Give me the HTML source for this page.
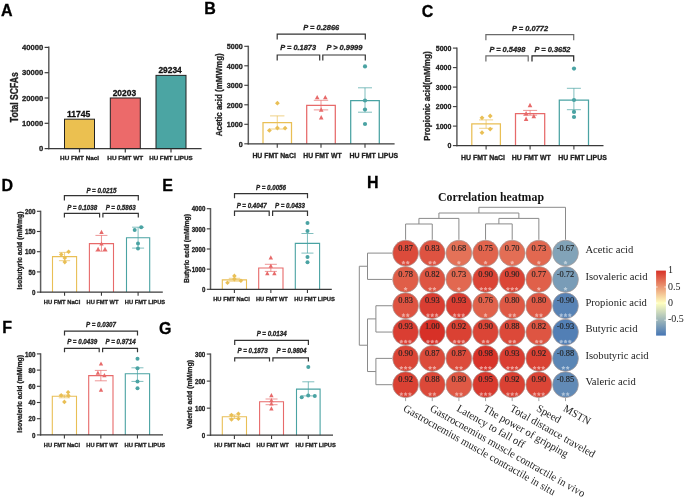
<!DOCTYPE html><html><head><meta charset="utf-8"><style>html,body{margin:0;padding:0;background:#fff;}svg{display:block;will-change:transform;}</style></head><body><svg width="685" height="497" viewBox="0 0 685 497">
<rect width="685" height="497" fill="#fff"/>
<text x="1.00" y="15.96" font-size="16.0" font-weight="bold" text-anchor="start" font-style="normal" fill="#000" font-family='"Liberation Sans", sans-serif' stroke="#000" stroke-width="0.3" >A</text>
<text x="204.30" y="13.96" font-size="16.0" font-weight="bold" text-anchor="start" font-style="normal" fill="#000" font-family='"Liberation Sans", sans-serif' stroke="#000" stroke-width="0.3" >B</text>
<text x="421.80" y="16.66" font-size="16.0" font-weight="bold" text-anchor="start" font-style="normal" fill="#000" font-family='"Liberation Sans", sans-serif' stroke="#000" stroke-width="0.3" >C</text>
<text x="1.40" y="191.26" font-size="16.0" font-weight="bold" text-anchor="start" font-style="normal" fill="#000" font-family='"Liberation Sans", sans-serif' stroke="#000" stroke-width="0.3" >D</text>
<text x="162.30" y="191.26" font-size="16.0" font-weight="bold" text-anchor="start" font-style="normal" fill="#000" font-family='"Liberation Sans", sans-serif' stroke="#000" stroke-width="0.3" >E</text>
<text x="2.20" y="332.56" font-size="16.0" font-weight="bold" text-anchor="start" font-style="normal" fill="#000" font-family='"Liberation Sans", sans-serif' stroke="#000" stroke-width="0.3" >F</text>
<text x="159.10" y="334.46" font-size="16.0" font-weight="bold" text-anchor="start" font-style="normal" fill="#000" font-family='"Liberation Sans", sans-serif' stroke="#000" stroke-width="0.3" >G</text>
<text x="367.00" y="188.06" font-size="16.0" font-weight="bold" text-anchor="start" font-style="normal" fill="#000" font-family='"Liberation Sans", sans-serif' stroke="#000" stroke-width="0.3" >H</text>
<line x1="48.80" y1="46.50" x2="48.80" y2="149.30" stroke="#5e5e5e" stroke-width="1.5" />
<line x1="48.10" y1="148.60" x2="201.60" y2="148.60" stroke="#3a3a3a" stroke-width="1.4" />
<line x1="44.60" y1="148.60" x2="48.80" y2="148.60" stroke="#3a3a3a" stroke-width="1.2" />
<text x="43.30" y="151.10" font-size="7.9" font-weight="bold" text-anchor="end" font-style="normal" fill="#222" font-family='"Liberation Sans", sans-serif' textLength="4.26" lengthAdjust="spacingAndGlyphs" stroke="#222" stroke-width="0.3" >0</text>
<line x1="44.60" y1="123.30" x2="48.80" y2="123.30" stroke="#3a3a3a" stroke-width="1.2" />
<text x="43.30" y="125.80" font-size="7.9" font-weight="bold" text-anchor="end" font-style="normal" fill="#222" font-family='"Liberation Sans", sans-serif' textLength="21.3" lengthAdjust="spacingAndGlyphs" stroke="#222" stroke-width="0.3" >10000</text>
<line x1="44.60" y1="98.00" x2="48.80" y2="98.00" stroke="#3a3a3a" stroke-width="1.2" />
<text x="43.30" y="100.50" font-size="7.9" font-weight="bold" text-anchor="end" font-style="normal" fill="#222" font-family='"Liberation Sans", sans-serif' textLength="21.3" lengthAdjust="spacingAndGlyphs" stroke="#222" stroke-width="0.3" >20000</text>
<line x1="44.60" y1="72.70" x2="48.80" y2="72.70" stroke="#3a3a3a" stroke-width="1.2" />
<text x="43.30" y="75.20" font-size="7.9" font-weight="bold" text-anchor="end" font-style="normal" fill="#222" font-family='"Liberation Sans", sans-serif' textLength="21.3" lengthAdjust="spacingAndGlyphs" stroke="#222" stroke-width="0.3" >30000</text>
<line x1="44.60" y1="47.40" x2="48.80" y2="47.40" stroke="#3a3a3a" stroke-width="1.2" />
<text x="43.30" y="49.90" font-size="7.9" font-weight="bold" text-anchor="end" font-style="normal" fill="#222" font-family='"Liberation Sans", sans-serif' textLength="21.3" lengthAdjust="spacingAndGlyphs" stroke="#222" stroke-width="0.3" >40000</text>
<text x="18.00" y="97.20" font-size="10.0" font-weight="bold" text-anchor="middle" font-style="normal" fill="#222" font-family='"Liberation Sans", sans-serif' textLength="50" lengthAdjust="spacingAndGlyphs" transform="rotate(-90 18.00 97.20)" stroke="#222" stroke-width="0.3" >Total SCFAs</text>
<rect x="64.50" y="119.18" width="30" height="29.42" fill="#EBC050" stroke="#222" stroke-width="1"/>
<text x="78.60" y="116.88" font-size="8.9" font-weight="bold" text-anchor="middle" font-style="normal" fill="#111" font-family='"Liberation Sans", sans-serif' textLength="23.4" lengthAdjust="spacingAndGlyphs" stroke="#111" stroke-width="0.3" >11745</text>
<line x1="79.50" y1="148.60" x2="79.50" y2="152.40" stroke="#3a3a3a" stroke-width="1.2" />
<text x="79.60" y="160.00" font-size="6.2" font-weight="bold" text-anchor="middle" font-style="normal" fill="#222" font-family='"Liberation Sans", sans-serif' textLength="39.0" lengthAdjust="spacingAndGlyphs" stroke="#222" stroke-width="0.3" >HU FMT Nacl</text>
<rect x="110.30" y="97.99" width="30" height="50.61" fill="#EC6A6A" stroke="#222" stroke-width="1"/>
<text x="124.40" y="95.69" font-size="8.9" font-weight="bold" text-anchor="middle" font-style="normal" fill="#111" font-family='"Liberation Sans", sans-serif' textLength="23.4" lengthAdjust="spacingAndGlyphs" stroke="#111" stroke-width="0.3" >20203</text>
<line x1="125.30" y1="148.60" x2="125.30" y2="152.40" stroke="#3a3a3a" stroke-width="1.2" />
<text x="125.20" y="160.00" font-size="6.2" font-weight="bold" text-anchor="middle" font-style="normal" fill="#222" font-family='"Liberation Sans", sans-serif' textLength="35.8" lengthAdjust="spacingAndGlyphs" stroke="#222" stroke-width="0.3" >HU FMT WT</text>
<rect x="156.00" y="75.37" width="30" height="73.23" fill="#4BA5A3" stroke="#222" stroke-width="1"/>
<text x="170.10" y="73.07" font-size="8.9" font-weight="bold" text-anchor="middle" font-style="normal" fill="#111" font-family='"Liberation Sans", sans-serif' textLength="23.4" lengthAdjust="spacingAndGlyphs" stroke="#111" stroke-width="0.3" >29234</text>
<line x1="171.00" y1="148.60" x2="171.00" y2="152.40" stroke="#3a3a3a" stroke-width="1.2" />
<text x="170.90" y="160.00" font-size="6.2" font-weight="bold" text-anchor="middle" font-style="normal" fill="#222" font-family='"Liberation Sans", sans-serif' textLength="43.4" lengthAdjust="spacingAndGlyphs" stroke="#222" stroke-width="0.3" >HU FMT LIPUS</text>
<text x="221.60" y="94.80" font-size="9.0" font-weight="bold" text-anchor="middle" font-style="normal" fill="#222" font-family='"Liberation Sans", sans-serif' textLength="83" lengthAdjust="spacingAndGlyphs" transform="rotate(-90 221.60 94.80)" stroke="#222" stroke-width="0.3" >Acetic acid  (mMWmg)</text>
<path d="M263.00 143.80V122.60H291.50V143.80" stroke="#E9BF55" stroke-width="1.25" fill="none" />
<line x1="277.25" y1="115.90" x2="277.25" y2="129.00" stroke="#E9BF55" stroke-width="1.0" stroke-opacity="0.7"/>
<line x1="270.05" y1="115.90" x2="284.45" y2="115.90" stroke="#E9BF55" stroke-width="1.0" stroke-opacity="0.7"/>
<line x1="270.05" y1="129.00" x2="284.45" y2="129.00" stroke="#E9BF55" stroke-width="1.0" stroke-opacity="0.7"/>
<path d="M277.40 100.78L279.81 103.20L277.40 105.62L274.98 103.20Z" fill="#E9BF55"/>
<path d="M269.40 127.98L271.81 130.40L269.40 132.81L266.98 130.40Z" fill="#E9BF55"/>
<path d="M277.40 125.58L279.81 128.00L277.40 130.41L274.98 128.00Z" fill="#E9BF55"/>
<path d="M285.10 125.78L287.52 128.20L285.10 130.61L282.69 128.20Z" fill="#E9BF55"/>
<line x1="277.25" y1="143.80" x2="277.25" y2="147.80" stroke="#3a3a3a" stroke-width="1.1" />
<path d="M306.70 143.80V105.40H335.30V143.80" stroke="#E76A6A" stroke-width="1.25" fill="none" />
<line x1="321.00" y1="100.30" x2="321.00" y2="109.90" stroke="#E76A6A" stroke-width="1.0" stroke-opacity="0.7"/>
<line x1="313.80" y1="100.30" x2="328.20" y2="100.30" stroke="#E76A6A" stroke-width="1.0" stroke-opacity="0.7"/>
<line x1="313.80" y1="109.90" x2="328.20" y2="109.90" stroke="#E76A6A" stroke-width="1.0" stroke-opacity="0.7"/>
<path d="M317.20 94.97L319.51 99.36L314.89 99.36Z" fill="#E76A6A"/>
<path d="M325.30 94.97L327.61 99.36L322.99 99.36Z" fill="#E76A6A"/>
<path d="M321.20 107.27L323.51 111.66L318.89 111.66Z" fill="#E76A6A"/>
<path d="M321.20 115.07L323.51 119.46L318.89 119.46Z" fill="#E76A6A"/>
<line x1="321.00" y1="143.80" x2="321.00" y2="147.80" stroke="#3a3a3a" stroke-width="1.1" />
<path d="M350.70 143.80V100.50H379.30V143.80" stroke="#4AA3A3" stroke-width="1.25" fill="none" />
<line x1="365.00" y1="87.80" x2="365.00" y2="112.20" stroke="#4AA3A3" stroke-width="1.0" stroke-opacity="0.7"/>
<line x1="358.00" y1="87.80" x2="372.00" y2="87.80" stroke="#4AA3A3" stroke-width="1.0" stroke-opacity="0.7"/>
<line x1="358.00" y1="112.20" x2="372.00" y2="112.20" stroke="#4AA3A3" stroke-width="1.0" stroke-opacity="0.7"/>
<circle cx="365.00" cy="66.40" r="2.1" fill="#4AA3A3" />
<circle cx="365.00" cy="100.50" r="2.1" fill="#4AA3A3" />
<circle cx="365.00" cy="109.50" r="2.1" fill="#4AA3A3" />
<circle cx="365.00" cy="124.00" r="2.1" fill="#4AA3A3" />
<line x1="365.00" y1="143.80" x2="365.00" y2="147.80" stroke="#3a3a3a" stroke-width="1.1" />
<line x1="248.30" y1="45.70" x2="248.30" y2="144.40" stroke="#5e5e5e" stroke-width="1.5" />
<line x1="247.70" y1="143.80" x2="394.60" y2="143.80" stroke="#3a3a3a" stroke-width="1.3" />
<line x1="244.30" y1="143.80" x2="248.30" y2="143.80" stroke="#3a3a3a" stroke-width="1.1" />
<text x="242.80" y="146.65" font-size="7.5" font-weight="bold" text-anchor="end" font-style="normal" fill="#222" font-family='"Liberation Sans", sans-serif' textLength="4.0" lengthAdjust="spacingAndGlyphs" stroke="#222" stroke-width="0.3" >0</text>
<line x1="244.30" y1="124.30" x2="248.30" y2="124.30" stroke="#3a3a3a" stroke-width="1.1" />
<text x="242.80" y="127.15" font-size="7.5" font-weight="bold" text-anchor="end" font-style="normal" fill="#222" font-family='"Liberation Sans", sans-serif' textLength="16.0" lengthAdjust="spacingAndGlyphs" stroke="#222" stroke-width="0.3" >1000</text>
<line x1="244.30" y1="104.80" x2="248.30" y2="104.80" stroke="#3a3a3a" stroke-width="1.1" />
<text x="242.80" y="107.65" font-size="7.5" font-weight="bold" text-anchor="end" font-style="normal" fill="#222" font-family='"Liberation Sans", sans-serif' textLength="16.0" lengthAdjust="spacingAndGlyphs" stroke="#222" stroke-width="0.3" >2000</text>
<line x1="244.30" y1="85.30" x2="248.30" y2="85.30" stroke="#3a3a3a" stroke-width="1.1" />
<text x="242.80" y="88.15" font-size="7.5" font-weight="bold" text-anchor="end" font-style="normal" fill="#222" font-family='"Liberation Sans", sans-serif' textLength="16.0" lengthAdjust="spacingAndGlyphs" stroke="#222" stroke-width="0.3" >3000</text>
<line x1="244.30" y1="65.80" x2="248.30" y2="65.80" stroke="#3a3a3a" stroke-width="1.1" />
<text x="242.80" y="68.65" font-size="7.5" font-weight="bold" text-anchor="end" font-style="normal" fill="#222" font-family='"Liberation Sans", sans-serif' textLength="16.0" lengthAdjust="spacingAndGlyphs" stroke="#222" stroke-width="0.3" >4000</text>
<line x1="244.30" y1="46.30" x2="248.30" y2="46.30" stroke="#3a3a3a" stroke-width="1.1" />
<text x="242.80" y="49.15" font-size="7.5" font-weight="bold" text-anchor="end" font-style="normal" fill="#222" font-family='"Liberation Sans", sans-serif' textLength="16.0" lengthAdjust="spacingAndGlyphs" stroke="#222" stroke-width="0.3" >5000</text>
<text x="274.10" y="157.88" font-size="6.9" font-weight="bold" text-anchor="middle" font-style="normal" fill="#222" font-family='"Liberation Sans", sans-serif' textLength="43.4" lengthAdjust="spacingAndGlyphs" stroke="#222" stroke-width="0.3" >HU FMT NaCl</text>
<text x="322.40" y="157.88" font-size="6.9" font-weight="bold" text-anchor="middle" font-style="normal" fill="#222" font-family='"Liberation Sans", sans-serif' textLength="38.3" lengthAdjust="spacingAndGlyphs" stroke="#222" stroke-width="0.3" >HU FMT WT</text>
<text x="373.80" y="157.88" font-size="6.9" font-weight="bold" text-anchor="middle" font-style="normal" fill="#222" font-family='"Liberation Sans", sans-serif' textLength="48.5" lengthAdjust="spacingAndGlyphs" stroke="#222" stroke-width="0.3" >HU FMT LIPUS</text>
<path d="M277.20 39.60V34.10H365.30V39.60" stroke="#333" stroke-width="1.2" fill="none" />
<path d="M277.20 60.50V55.00H319.70V60.50" stroke="#333" stroke-width="1.2" fill="none" />
<path d="M322.80 60.50V55.00H365.30V60.50" stroke="#333" stroke-width="1.2" fill="none" />
<text x="321.20" y="29.92" font-size="8.0" font-weight="bold" text-anchor="middle" font-style="italic" fill="#222" font-family='"Liberation Sans", sans-serif' textLength="36" lengthAdjust="spacingAndGlyphs" stroke="#222" stroke-width="0.3" >P = 0.2866</text>
<text x="298.20" y="50.22" font-size="8.0" font-weight="bold" text-anchor="middle" font-style="italic" fill="#222" font-family='"Liberation Sans", sans-serif' textLength="35.7" lengthAdjust="spacingAndGlyphs" stroke="#222" stroke-width="0.3" >P = 0.1873</text>
<text x="344.40" y="50.22" font-size="8.0" font-weight="bold" text-anchor="middle" font-style="italic" fill="#222" font-family='"Liberation Sans", sans-serif' textLength="36" lengthAdjust="spacingAndGlyphs" stroke="#222" stroke-width="0.3" >P &gt; 0.9999</text>
<text x="430.20" y="96.00" font-size="9.0" font-weight="bold" text-anchor="middle" font-style="normal" fill="#222" font-family='"Liberation Sans", sans-serif' textLength="89.4" lengthAdjust="spacingAndGlyphs" transform="rotate(-90 430.20 96.00)" stroke="#222" stroke-width="0.3" >Propionic acid(mM/mg)</text>
<path d="M471.80 145.60V123.80H500.40V145.60" stroke="#E9BF55" stroke-width="1.25" fill="none" />
<line x1="486.10" y1="119.90" x2="486.10" y2="128.30" stroke="#E9BF55" stroke-width="1.0" stroke-opacity="0.7"/>
<line x1="479.10" y1="119.90" x2="493.10" y2="119.90" stroke="#E9BF55" stroke-width="1.0" stroke-opacity="0.7"/>
<line x1="479.10" y1="128.30" x2="493.10" y2="128.30" stroke="#E9BF55" stroke-width="1.0" stroke-opacity="0.7"/>
<path d="M482.00 115.38L484.42 117.80L482.00 120.22L479.58 117.80Z" fill="#E9BF55"/>
<path d="M490.20 113.58L492.62 116.00L490.20 118.42L487.78 116.00Z" fill="#E9BF55"/>
<path d="M482.00 130.28L484.42 132.70L482.00 135.11L479.58 132.70Z" fill="#E9BF55"/>
<path d="M490.20 126.68L492.62 129.10L490.20 131.51L487.78 129.10Z" fill="#E9BF55"/>
<line x1="486.10" y1="145.60" x2="486.10" y2="149.60" stroke="#3a3a3a" stroke-width="1.1" />
<path d="M515.50 145.60V113.70H544.70V145.60" stroke="#E76A6A" stroke-width="1.25" fill="none" />
<line x1="530.10" y1="110.40" x2="530.10" y2="115.20" stroke="#E76A6A" stroke-width="1.0" stroke-opacity="0.7"/>
<line x1="523.10" y1="110.40" x2="537.10" y2="110.40" stroke="#E76A6A" stroke-width="1.0" stroke-opacity="0.7"/>
<line x1="523.10" y1="115.20" x2="537.10" y2="115.20" stroke="#E76A6A" stroke-width="1.0" stroke-opacity="0.7"/>
<path d="M530.00 102.87L532.31 107.26L527.69 107.26Z" fill="#E76A6A"/>
<path d="M526.10 111.07L528.41 115.46L523.79 115.46Z" fill="#E76A6A"/>
<path d="M533.80 113.77L536.11 118.16L531.49 118.16Z" fill="#E76A6A"/>
<path d="M526.10 116.57L528.41 120.96L523.79 120.96Z" fill="#E76A6A"/>
<line x1="530.10" y1="145.60" x2="530.10" y2="149.60" stroke="#3a3a3a" stroke-width="1.1" />
<path d="M559.30 145.60V100.00H588.50V145.60" stroke="#4AA3A3" stroke-width="1.25" fill="none" />
<line x1="573.90" y1="88.30" x2="573.90" y2="109.70" stroke="#4AA3A3" stroke-width="1.0" stroke-opacity="0.7"/>
<line x1="566.90" y1="88.30" x2="580.90" y2="88.30" stroke="#4AA3A3" stroke-width="1.0" stroke-opacity="0.7"/>
<line x1="566.90" y1="109.70" x2="580.90" y2="109.70" stroke="#4AA3A3" stroke-width="1.0" stroke-opacity="0.7"/>
<circle cx="574.00" cy="68.60" r="2.1" fill="#4AA3A3" />
<circle cx="574.00" cy="100.00" r="2.1" fill="#4AA3A3" />
<circle cx="574.00" cy="111.90" r="2.1" fill="#4AA3A3" />
<circle cx="574.00" cy="117.00" r="2.1" fill="#4AA3A3" />
<line x1="573.90" y1="145.60" x2="573.90" y2="149.60" stroke="#3a3a3a" stroke-width="1.1" />
<line x1="456.90" y1="47.50" x2="456.90" y2="146.20" stroke="#5e5e5e" stroke-width="1.5" />
<line x1="456.30" y1="145.60" x2="603.50" y2="145.60" stroke="#3a3a3a" stroke-width="1.3" />
<line x1="452.90" y1="145.60" x2="456.90" y2="145.60" stroke="#3a3a3a" stroke-width="1.1" />
<text x="451.40" y="148.45" font-size="7.5" font-weight="bold" text-anchor="end" font-style="normal" fill="#222" font-family='"Liberation Sans", sans-serif' textLength="3.9" lengthAdjust="spacingAndGlyphs" stroke="#222" stroke-width="0.3" >0</text>
<line x1="452.90" y1="126.10" x2="456.90" y2="126.10" stroke="#3a3a3a" stroke-width="1.1" />
<text x="451.40" y="128.95" font-size="7.5" font-weight="bold" text-anchor="end" font-style="normal" fill="#222" font-family='"Liberation Sans", sans-serif' textLength="15.6" lengthAdjust="spacingAndGlyphs" stroke="#222" stroke-width="0.3" >1000</text>
<line x1="452.90" y1="106.60" x2="456.90" y2="106.60" stroke="#3a3a3a" stroke-width="1.1" />
<text x="451.40" y="109.45" font-size="7.5" font-weight="bold" text-anchor="end" font-style="normal" fill="#222" font-family='"Liberation Sans", sans-serif' textLength="15.6" lengthAdjust="spacingAndGlyphs" stroke="#222" stroke-width="0.3" >2000</text>
<line x1="452.90" y1="87.10" x2="456.90" y2="87.10" stroke="#3a3a3a" stroke-width="1.1" />
<text x="451.40" y="89.95" font-size="7.5" font-weight="bold" text-anchor="end" font-style="normal" fill="#222" font-family='"Liberation Sans", sans-serif' textLength="15.6" lengthAdjust="spacingAndGlyphs" stroke="#222" stroke-width="0.3" >3000</text>
<line x1="452.90" y1="67.60" x2="456.90" y2="67.60" stroke="#3a3a3a" stroke-width="1.1" />
<text x="451.40" y="70.45" font-size="7.5" font-weight="bold" text-anchor="end" font-style="normal" fill="#222" font-family='"Liberation Sans", sans-serif' textLength="15.6" lengthAdjust="spacingAndGlyphs" stroke="#222" stroke-width="0.3" >4000</text>
<line x1="452.90" y1="48.10" x2="456.90" y2="48.10" stroke="#3a3a3a" stroke-width="1.1" />
<text x="451.40" y="50.95" font-size="7.5" font-weight="bold" text-anchor="end" font-style="normal" fill="#222" font-family='"Liberation Sans", sans-serif' textLength="15.6" lengthAdjust="spacingAndGlyphs" stroke="#222" stroke-width="0.3" >5000</text>
<text x="483.00" y="160.08" font-size="6.9" font-weight="bold" text-anchor="middle" font-style="normal" fill="#222" font-family='"Liberation Sans", sans-serif' textLength="43.8" lengthAdjust="spacingAndGlyphs" stroke="#222" stroke-width="0.3" >HU FMT NaCl</text>
<text x="531.30" y="160.08" font-size="6.9" font-weight="bold" text-anchor="middle" font-style="normal" fill="#222" font-family='"Liberation Sans", sans-serif' textLength="39.2" lengthAdjust="spacingAndGlyphs" stroke="#222" stroke-width="0.3" >HU FMT WT</text>
<text x="582.50" y="160.08" font-size="6.9" font-weight="bold" text-anchor="middle" font-style="normal" fill="#222" font-family='"Liberation Sans", sans-serif' textLength="48.6" lengthAdjust="spacingAndGlyphs" stroke="#222" stroke-width="0.3" >HU FMT LIPUS</text>
<path d="M485.90 40.20V34.70H573.70V40.20" stroke="#6a6a6a" stroke-width="1.2" fill="none" />
<path d="M485.90 61.40V55.90H528.20V61.40" stroke="#6a6a6a" stroke-width="1.2" fill="none" />
<path d="M532.00 61.40V55.90H573.70V61.40" stroke="#222" stroke-width="1.2" fill="none" />
<text x="530.10" y="30.72" font-size="8.0" font-weight="bold" text-anchor="middle" font-style="italic" fill="#222" font-family='"Liberation Sans", sans-serif' textLength="36" lengthAdjust="spacingAndGlyphs" stroke="#222" stroke-width="0.3" >P = 0.0772</text>
<text x="507.40" y="51.52" font-size="8.0" font-weight="bold" text-anchor="middle" font-style="italic" fill="#222" font-family='"Liberation Sans", sans-serif' textLength="36" lengthAdjust="spacingAndGlyphs" stroke="#222" stroke-width="0.3" >P = 0.5498</text>
<text x="552.50" y="51.52" font-size="8.0" font-weight="bold" text-anchor="middle" font-style="italic" fill="#222" font-family='"Liberation Sans", sans-serif' textLength="36" lengthAdjust="spacingAndGlyphs" stroke="#222" stroke-width="0.3" >P = 0.3652</text>
<text x="22.00" y="250.60" font-size="7.5" font-weight="bold" text-anchor="middle" font-style="normal" fill="#222" font-family='"Liberation Sans", sans-serif' textLength="78" lengthAdjust="spacingAndGlyphs" transform="rotate(-90 22.00 250.60)" stroke="#222" stroke-width="0.3" >Isobutyric acid (mM/mg)</text>
<path d="M52.50 292.10V256.60H76.60V292.10" stroke="#E9BF55" stroke-width="1.1" fill="none" />
<line x1="64.55" y1="252.40" x2="64.55" y2="260.70" stroke="#E9BF55" stroke-width="1.0" stroke-opacity="0.7"/>
<line x1="58.95" y1="252.40" x2="70.15" y2="252.40" stroke="#E9BF55" stroke-width="1.0" stroke-opacity="0.7"/>
<line x1="58.95" y1="260.70" x2="70.15" y2="260.70" stroke="#E9BF55" stroke-width="1.0" stroke-opacity="0.7"/>
<path d="M61.30 252.20L63.60 254.50L61.30 256.80L59.00 254.50Z" fill="#E9BF55"/>
<path d="M68.60 249.40L70.90 251.70L68.60 254.00L66.30 251.70Z" fill="#E9BF55"/>
<path d="M64.80 255.60L67.10 257.90L64.80 260.20L62.50 257.90Z" fill="#E9BF55"/>
<path d="M64.80 259.80L67.10 262.10L64.80 264.40L62.50 262.10Z" fill="#E9BF55"/>
<line x1="64.55" y1="292.10" x2="64.55" y2="295.80" stroke="#3a3a3a" stroke-width="1.1" />
<path d="M89.40 292.10V243.60H113.50V292.10" stroke="#E76A6A" stroke-width="1.1" fill="none" />
<line x1="101.45" y1="235.40" x2="101.45" y2="251.20" stroke="#E76A6A" stroke-width="1.0" stroke-opacity="0.7"/>
<line x1="95.45" y1="235.40" x2="107.45" y2="235.40" stroke="#E76A6A" stroke-width="1.0" stroke-opacity="0.7"/>
<line x1="95.45" y1="251.20" x2="107.45" y2="251.20" stroke="#E76A6A" stroke-width="1.0" stroke-opacity="0.7"/>
<path d="M101.50 229.79L103.70 233.97L99.30 233.97Z" fill="#E76A6A"/>
<path d="M101.50 241.39L103.70 245.57L99.30 245.57Z" fill="#E76A6A"/>
<path d="M98.10 246.79L100.30 250.97L95.90 250.97Z" fill="#E76A6A"/>
<path d="M105.00 246.79L107.20 250.97L102.80 250.97Z" fill="#E76A6A"/>
<line x1="101.45" y1="292.10" x2="101.45" y2="295.80" stroke="#3a3a3a" stroke-width="1.1" />
<path d="M126.50 292.10V237.80H149.70V292.10" stroke="#4AA3A3" stroke-width="1.1" fill="none" />
<line x1="138.10" y1="227.20" x2="138.10" y2="248.10" stroke="#4AA3A3" stroke-width="1.0" stroke-opacity="0.7"/>
<line x1="132.10" y1="227.20" x2="144.10" y2="227.20" stroke="#4AA3A3" stroke-width="1.0" stroke-opacity="0.7"/>
<line x1="132.10" y1="248.10" x2="144.10" y2="248.10" stroke="#4AA3A3" stroke-width="1.0" stroke-opacity="0.7"/>
<circle cx="134.70" cy="230.00" r="2.0" fill="#4AA3A3" />
<circle cx="141.20" cy="227.20" r="2.0" fill="#4AA3A3" />
<circle cx="138.00" cy="243.60" r="2.0" fill="#4AA3A3" />
<circle cx="138.00" cy="248.60" r="2.0" fill="#4AA3A3" />
<line x1="138.10" y1="292.10" x2="138.10" y2="295.80" stroke="#3a3a3a" stroke-width="1.1" />
<line x1="40.60" y1="210.70" x2="40.60" y2="292.70" stroke="#5e5e5e" stroke-width="1.5" />
<line x1="40.00" y1="292.10" x2="162.80" y2="292.10" stroke="#3a3a3a" stroke-width="1.3" />
<line x1="36.90" y1="292.10" x2="40.60" y2="292.10" stroke="#3a3a3a" stroke-width="1.1" />
<text x="35.40" y="294.77" font-size="6.9" font-weight="bold" text-anchor="end" font-style="normal" fill="#222" font-family='"Liberation Sans", sans-serif' textLength="3.45" lengthAdjust="spacingAndGlyphs" stroke="#222" stroke-width="0.3" >0</text>
<line x1="36.90" y1="271.90" x2="40.60" y2="271.90" stroke="#3a3a3a" stroke-width="1.1" />
<text x="35.40" y="274.57" font-size="6.9" font-weight="bold" text-anchor="end" font-style="normal" fill="#222" font-family='"Liberation Sans", sans-serif' textLength="6.9" lengthAdjust="spacingAndGlyphs" stroke="#222" stroke-width="0.3" >50</text>
<line x1="36.90" y1="251.70" x2="40.60" y2="251.70" stroke="#3a3a3a" stroke-width="1.1" />
<text x="35.40" y="254.37" font-size="6.9" font-weight="bold" text-anchor="end" font-style="normal" fill="#222" font-family='"Liberation Sans", sans-serif' textLength="10.35" lengthAdjust="spacingAndGlyphs" stroke="#222" stroke-width="0.3" >100</text>
<line x1="36.90" y1="231.50" x2="40.60" y2="231.50" stroke="#3a3a3a" stroke-width="1.1" />
<text x="35.40" y="234.17" font-size="6.9" font-weight="bold" text-anchor="end" font-style="normal" fill="#222" font-family='"Liberation Sans", sans-serif' textLength="10.35" lengthAdjust="spacingAndGlyphs" stroke="#222" stroke-width="0.3" >150</text>
<line x1="36.90" y1="211.30" x2="40.60" y2="211.30" stroke="#3a3a3a" stroke-width="1.1" />
<text x="35.40" y="213.97" font-size="6.9" font-weight="bold" text-anchor="end" font-style="normal" fill="#222" font-family='"Liberation Sans", sans-serif' textLength="10.35" lengthAdjust="spacingAndGlyphs" stroke="#222" stroke-width="0.3" >200</text>
<text x="62.10" y="303.83" font-size="6.2" font-weight="bold" text-anchor="middle" font-style="normal" fill="#222" font-family='"Liberation Sans", sans-serif' textLength="36.6" lengthAdjust="spacingAndGlyphs" stroke="#222" stroke-width="0.3" >HU FMT NaCl</text>
<text x="102.50" y="303.83" font-size="6.2" font-weight="bold" text-anchor="middle" font-style="normal" fill="#222" font-family='"Liberation Sans", sans-serif' textLength="31.9" lengthAdjust="spacingAndGlyphs" stroke="#222" stroke-width="0.3" >HU FMT WT</text>
<text x="145.00" y="303.83" font-size="6.2" font-weight="bold" text-anchor="middle" font-style="normal" fill="#222" font-family='"Liberation Sans", sans-serif' textLength="40.3" lengthAdjust="spacingAndGlyphs" stroke="#222" stroke-width="0.3" >HU FMT LIPUS</text>
<path d="M64.40 200.50V195.60H138.30V200.50" stroke="#333" stroke-width="1.2" fill="none" />
<path d="M64.40 217.60V213.30H99.60V217.60" stroke="#333" stroke-width="1.2" fill="none" />
<path d="M102.90 217.60V213.30H138.30V217.60" stroke="#333" stroke-width="1.2" fill="none" />
<text x="101.40" y="192.87" font-size="6.8" font-weight="bold" text-anchor="middle" font-style="italic" fill="#222" font-family='"Liberation Sans", sans-serif' textLength="30" lengthAdjust="spacingAndGlyphs" stroke="#222" stroke-width="0.3" >P = 0.0215</text>
<text x="82.20" y="209.67" font-size="6.8" font-weight="bold" text-anchor="middle" font-style="italic" fill="#222" font-family='"Liberation Sans", sans-serif' textLength="30" lengthAdjust="spacingAndGlyphs" stroke="#222" stroke-width="0.3" >P = 0.1038</text>
<text x="120.70" y="209.67" font-size="6.8" font-weight="bold" text-anchor="middle" font-style="italic" fill="#222" font-family='"Liberation Sans", sans-serif' textLength="30" lengthAdjust="spacingAndGlyphs" stroke="#222" stroke-width="0.3" >P = 0.5863</text>
<text x="188.60" y="248.50" font-size="7.5" font-weight="bold" text-anchor="middle" font-style="normal" fill="#222" font-family='"Liberation Sans", sans-serif' textLength="69" lengthAdjust="spacingAndGlyphs" transform="rotate(-90 188.60 248.50)" stroke="#222" stroke-width="0.3" >Butyric acid (mM/mg)</text>
<path d="M222.30 289.30V279.90H246.50V289.30" stroke="#E9BF55" stroke-width="1.1" fill="none" />
<line x1="234.40" y1="278.30" x2="234.40" y2="281.20" stroke="#E9BF55" stroke-width="1.0" stroke-opacity="0.7"/>
<line x1="228.80" y1="278.30" x2="240.00" y2="278.30" stroke="#E9BF55" stroke-width="1.0" stroke-opacity="0.7"/>
<line x1="228.80" y1="281.20" x2="240.00" y2="281.20" stroke="#E9BF55" stroke-width="1.0" stroke-opacity="0.7"/>
<path d="M234.40 273.60L236.70 275.90L234.40 278.20L232.10 275.90Z" fill="#E9BF55"/>
<path d="M227.50 280.50L229.80 282.80L227.50 285.10L225.20 282.80Z" fill="#E9BF55"/>
<path d="M234.40 276.80L236.70 279.10L234.40 281.40L232.10 279.10Z" fill="#E9BF55"/>
<path d="M240.90 278.40L243.20 280.70L240.90 283.00L238.60 280.70Z" fill="#E9BF55"/>
<line x1="234.40" y1="289.30" x2="234.40" y2="293.00" stroke="#3a3a3a" stroke-width="1.1" />
<path d="M258.70 289.30V268.00H283.00V289.30" stroke="#E76A6A" stroke-width="1.1" fill="none" />
<line x1="270.85" y1="264.30" x2="270.85" y2="271.40" stroke="#E76A6A" stroke-width="1.0" stroke-opacity="0.7"/>
<line x1="264.85" y1="264.30" x2="276.85" y2="264.30" stroke="#E76A6A" stroke-width="1.0" stroke-opacity="0.7"/>
<line x1="264.85" y1="271.40" x2="276.85" y2="271.40" stroke="#E76A6A" stroke-width="1.0" stroke-opacity="0.7"/>
<path d="M270.80 255.29L273.00 259.47L268.60 259.47Z" fill="#E76A6A"/>
<path d="M270.80 263.69L273.00 267.87L268.60 267.87Z" fill="#E76A6A"/>
<path d="M267.30 270.99L269.50 275.17L265.10 275.17Z" fill="#E76A6A"/>
<path d="M274.40 270.99L276.60 275.17L272.20 275.17Z" fill="#E76A6A"/>
<line x1="270.85" y1="289.30" x2="270.85" y2="293.00" stroke="#3a3a3a" stroke-width="1.1" />
<path d="M295.30 289.30V243.40H319.60V289.30" stroke="#4AA3A3" stroke-width="1.1" fill="none" />
<line x1="307.45" y1="233.50" x2="307.45" y2="253.10" stroke="#4AA3A3" stroke-width="1.0" stroke-opacity="0.7"/>
<line x1="301.45" y1="233.50" x2="313.45" y2="233.50" stroke="#4AA3A3" stroke-width="1.0" stroke-opacity="0.7"/>
<line x1="301.45" y1="253.10" x2="313.45" y2="253.10" stroke="#4AA3A3" stroke-width="1.0" stroke-opacity="0.7"/>
<circle cx="307.50" cy="223.10" r="2.0" fill="#4AA3A3" />
<circle cx="307.50" cy="230.90" r="2.0" fill="#4AA3A3" />
<circle cx="307.50" cy="257.00" r="2.0" fill="#4AA3A3" />
<circle cx="307.50" cy="262.20" r="2.0" fill="#4AA3A3" />
<line x1="307.45" y1="289.30" x2="307.45" y2="293.00" stroke="#3a3a3a" stroke-width="1.1" />
<line x1="210.50" y1="208.10" x2="210.50" y2="289.90" stroke="#5e5e5e" stroke-width="1.5" />
<line x1="209.90" y1="289.30" x2="331.80" y2="289.30" stroke="#3a3a3a" stroke-width="1.3" />
<line x1="206.80" y1="289.30" x2="210.50" y2="289.30" stroke="#3a3a3a" stroke-width="1.1" />
<text x="205.30" y="291.97" font-size="6.9" font-weight="bold" text-anchor="end" font-style="normal" fill="#222" font-family='"Liberation Sans", sans-serif' textLength="3.4" lengthAdjust="spacingAndGlyphs" stroke="#222" stroke-width="0.3" >0</text>
<line x1="206.80" y1="269.15" x2="210.50" y2="269.15" stroke="#3a3a3a" stroke-width="1.1" />
<text x="205.30" y="271.82" font-size="6.9" font-weight="bold" text-anchor="end" font-style="normal" fill="#222" font-family='"Liberation Sans", sans-serif' textLength="13.6" lengthAdjust="spacingAndGlyphs" stroke="#222" stroke-width="0.3" >1000</text>
<line x1="206.80" y1="249.00" x2="210.50" y2="249.00" stroke="#3a3a3a" stroke-width="1.1" />
<text x="205.30" y="251.67" font-size="6.9" font-weight="bold" text-anchor="end" font-style="normal" fill="#222" font-family='"Liberation Sans", sans-serif' textLength="13.6" lengthAdjust="spacingAndGlyphs" stroke="#222" stroke-width="0.3" >2000</text>
<line x1="206.80" y1="228.85" x2="210.50" y2="228.85" stroke="#3a3a3a" stroke-width="1.1" />
<text x="205.30" y="231.52" font-size="6.9" font-weight="bold" text-anchor="end" font-style="normal" fill="#222" font-family='"Liberation Sans", sans-serif' textLength="13.6" lengthAdjust="spacingAndGlyphs" stroke="#222" stroke-width="0.3" >3000</text>
<line x1="206.80" y1="208.70" x2="210.50" y2="208.70" stroke="#3a3a3a" stroke-width="1.1" />
<text x="205.30" y="211.37" font-size="6.9" font-weight="bold" text-anchor="end" font-style="normal" fill="#222" font-family='"Liberation Sans", sans-serif' textLength="13.6" lengthAdjust="spacingAndGlyphs" stroke="#222" stroke-width="0.3" >4000</text>
<text x="231.50" y="300.83" font-size="6.2" font-weight="bold" text-anchor="middle" font-style="normal" fill="#222" font-family='"Liberation Sans", sans-serif' textLength="36.6" lengthAdjust="spacingAndGlyphs" stroke="#222" stroke-width="0.3" >HU FMT NaCl</text>
<text x="271.90" y="300.83" font-size="6.2" font-weight="bold" text-anchor="middle" font-style="normal" fill="#222" font-family='"Liberation Sans", sans-serif' textLength="31.9" lengthAdjust="spacingAndGlyphs" stroke="#222" stroke-width="0.3" >HU FMT WT</text>
<text x="314.60" y="300.83" font-size="6.2" font-weight="bold" text-anchor="middle" font-style="normal" fill="#222" font-family='"Liberation Sans", sans-serif' textLength="40.6" lengthAdjust="spacingAndGlyphs" stroke="#222" stroke-width="0.3" >HU FMT LIPUS</text>
<path d="M234.50 198.20V193.70H307.50V198.20" stroke="#333" stroke-width="1.2" fill="none" />
<path d="M234.50 215.90V211.20H269.20V215.90" stroke="#333" stroke-width="1.2" fill="none" />
<path d="M272.60 215.90V211.20H307.50V215.90" stroke="#333" stroke-width="1.2" fill="none" />
<text x="271.00" y="190.17" font-size="6.8" font-weight="bold" text-anchor="middle" font-style="italic" fill="#222" font-family='"Liberation Sans", sans-serif' textLength="30" lengthAdjust="spacingAndGlyphs" stroke="#222" stroke-width="0.3" >P = 0.0056</text>
<text x="251.70" y="207.57" font-size="6.8" font-weight="bold" text-anchor="middle" font-style="italic" fill="#222" font-family='"Liberation Sans", sans-serif' textLength="30" lengthAdjust="spacingAndGlyphs" stroke="#222" stroke-width="0.3" >P = 0.4047</text>
<text x="290.00" y="207.57" font-size="6.8" font-weight="bold" text-anchor="middle" font-style="italic" fill="#222" font-family='"Liberation Sans", sans-serif' textLength="30" lengthAdjust="spacingAndGlyphs" stroke="#222" stroke-width="0.3" >P = 0.0433</text>
<text x="22.00" y="393.90" font-size="7.5" font-weight="bold" text-anchor="middle" font-style="normal" fill="#222" font-family='"Liberation Sans", sans-serif' textLength="77.7" lengthAdjust="spacingAndGlyphs" transform="rotate(-90 22.00 393.90)" stroke="#222" stroke-width="0.3" >Isovaleric acid (mM/mg)</text>
<path d="M52.30 434.90V396.20H76.50V434.90" stroke="#E9BF55" stroke-width="1.1" fill="none" />
<line x1="64.40" y1="395.00" x2="64.40" y2="397.80" stroke="#E9BF55" stroke-width="1.0" stroke-opacity="0.7"/>
<line x1="58.80" y1="395.00" x2="70.00" y2="395.00" stroke="#E9BF55" stroke-width="1.0" stroke-opacity="0.7"/>
<line x1="58.80" y1="397.80" x2="70.00" y2="397.80" stroke="#E9BF55" stroke-width="1.0" stroke-opacity="0.7"/>
<path d="M61.20 393.10L63.50 395.40L61.20 397.70L58.90 395.40Z" fill="#E9BF55"/>
<path d="M68.10 389.90L70.40 392.20L68.10 394.50L65.80 392.20Z" fill="#E9BF55"/>
<path d="M68.40 393.50L70.70 395.80L68.40 398.10L66.10 395.80Z" fill="#E9BF55"/>
<path d="M64.40 399.60L66.70 401.90L64.40 404.20L62.10 401.90Z" fill="#E9BF55"/>
<line x1="64.40" y1="434.90" x2="64.40" y2="438.60" stroke="#3a3a3a" stroke-width="1.1" />
<path d="M88.70 434.90V375.60H113.00V434.90" stroke="#E76A6A" stroke-width="1.1" fill="none" />
<line x1="100.85" y1="370.40" x2="100.85" y2="380.80" stroke="#E76A6A" stroke-width="1.0" stroke-opacity="0.7"/>
<line x1="94.85" y1="370.40" x2="106.85" y2="370.40" stroke="#E76A6A" stroke-width="1.0" stroke-opacity="0.7"/>
<line x1="94.85" y1="380.80" x2="106.85" y2="380.80" stroke="#E76A6A" stroke-width="1.0" stroke-opacity="0.7"/>
<path d="M101.00 361.39L103.20 365.57L98.80 365.57Z" fill="#E76A6A"/>
<path d="M97.90 370.49L100.10 374.67L95.70 374.67Z" fill="#E76A6A"/>
<path d="M104.40 373.09L106.60 377.27L102.20 377.27Z" fill="#E76A6A"/>
<path d="M101.00 387.49L103.20 391.67L98.80 391.67Z" fill="#E76A6A"/>
<line x1="100.85" y1="434.90" x2="100.85" y2="438.60" stroke="#3a3a3a" stroke-width="1.1" />
<path d="M125.30 434.90V373.80H149.60V434.90" stroke="#4AA3A3" stroke-width="1.1" fill="none" />
<line x1="137.45" y1="367.80" x2="137.45" y2="381.40" stroke="#4AA3A3" stroke-width="1.0" stroke-opacity="0.7"/>
<line x1="131.45" y1="367.80" x2="143.45" y2="367.80" stroke="#4AA3A3" stroke-width="1.0" stroke-opacity="0.7"/>
<line x1="131.45" y1="381.40" x2="143.45" y2="381.40" stroke="#4AA3A3" stroke-width="1.0" stroke-opacity="0.7"/>
<circle cx="137.50" cy="358.70" r="2.0" fill="#4AA3A3" />
<circle cx="137.50" cy="368.30" r="2.0" fill="#4AA3A3" />
<circle cx="137.50" cy="381.40" r="2.0" fill="#4AA3A3" />
<circle cx="137.50" cy="388.20" r="2.0" fill="#4AA3A3" />
<line x1="137.45" y1="434.90" x2="137.45" y2="438.60" stroke="#3a3a3a" stroke-width="1.1" />
<line x1="40.60" y1="353.30" x2="40.60" y2="435.50" stroke="#5e5e5e" stroke-width="1.5" />
<line x1="40.00" y1="434.90" x2="163.00" y2="434.90" stroke="#3a3a3a" stroke-width="1.3" />
<line x1="36.90" y1="434.90" x2="40.60" y2="434.90" stroke="#3a3a3a" stroke-width="1.1" />
<text x="35.40" y="437.57" font-size="6.9" font-weight="bold" text-anchor="end" font-style="normal" fill="#222" font-family='"Liberation Sans", sans-serif' textLength="3.45" lengthAdjust="spacingAndGlyphs" stroke="#222" stroke-width="0.3" >0</text>
<line x1="36.90" y1="418.70" x2="40.60" y2="418.70" stroke="#3a3a3a" stroke-width="1.1" />
<text x="35.40" y="421.37" font-size="6.9" font-weight="bold" text-anchor="end" font-style="normal" fill="#222" font-family='"Liberation Sans", sans-serif' textLength="6.9" lengthAdjust="spacingAndGlyphs" stroke="#222" stroke-width="0.3" >20</text>
<line x1="36.90" y1="402.50" x2="40.60" y2="402.50" stroke="#3a3a3a" stroke-width="1.1" />
<text x="35.40" y="405.17" font-size="6.9" font-weight="bold" text-anchor="end" font-style="normal" fill="#222" font-family='"Liberation Sans", sans-serif' textLength="6.9" lengthAdjust="spacingAndGlyphs" stroke="#222" stroke-width="0.3" >40</text>
<line x1="36.90" y1="386.30" x2="40.60" y2="386.30" stroke="#3a3a3a" stroke-width="1.1" />
<text x="35.40" y="388.97" font-size="6.9" font-weight="bold" text-anchor="end" font-style="normal" fill="#222" font-family='"Liberation Sans", sans-serif' textLength="6.9" lengthAdjust="spacingAndGlyphs" stroke="#222" stroke-width="0.3" >60</text>
<line x1="36.90" y1="370.10" x2="40.60" y2="370.10" stroke="#3a3a3a" stroke-width="1.1" />
<text x="35.40" y="372.77" font-size="6.9" font-weight="bold" text-anchor="end" font-style="normal" fill="#222" font-family='"Liberation Sans", sans-serif' textLength="6.9" lengthAdjust="spacingAndGlyphs" stroke="#222" stroke-width="0.3" >80</text>
<line x1="36.90" y1="353.90" x2="40.60" y2="353.90" stroke="#3a3a3a" stroke-width="1.1" />
<text x="35.40" y="356.57" font-size="6.9" font-weight="bold" text-anchor="end" font-style="normal" fill="#222" font-family='"Liberation Sans", sans-serif' textLength="10.35" lengthAdjust="spacingAndGlyphs" stroke="#222" stroke-width="0.3" >100</text>
<text x="61.90" y="446.53" font-size="6.2" font-weight="bold" text-anchor="middle" font-style="normal" fill="#222" font-family='"Liberation Sans", sans-serif' textLength="36.2" lengthAdjust="spacingAndGlyphs" stroke="#222" stroke-width="0.3" >HU FMT NaCl</text>
<text x="102.20" y="446.53" font-size="6.2" font-weight="bold" text-anchor="middle" font-style="normal" fill="#222" font-family='"Liberation Sans", sans-serif' textLength="31.7" lengthAdjust="spacingAndGlyphs" stroke="#222" stroke-width="0.3" >HU FMT WT</text>
<text x="144.90" y="446.53" font-size="6.2" font-weight="bold" text-anchor="middle" font-style="normal" fill="#222" font-family='"Liberation Sans", sans-serif' textLength="40.7" lengthAdjust="spacingAndGlyphs" stroke="#222" stroke-width="0.3" >HU FMT LIPUS</text>
<path d="M64.50 335.40V331.20H137.50V335.40" stroke="#333" stroke-width="1.2" fill="none" />
<path d="M64.50 352.30V348.30H99.20V352.30" stroke="#333" stroke-width="1.2" fill="none" />
<path d="M102.60 352.30V348.30H137.50V352.30" stroke="#333" stroke-width="1.2" fill="none" />
<text x="101.00" y="327.27" font-size="6.8" font-weight="bold" text-anchor="middle" font-style="italic" fill="#222" font-family='"Liberation Sans", sans-serif' textLength="30" lengthAdjust="spacingAndGlyphs" stroke="#222" stroke-width="0.3" >P = 0.0307</text>
<text x="82.20" y="343.77" font-size="6.8" font-weight="bold" text-anchor="middle" font-style="italic" fill="#222" font-family='"Liberation Sans", sans-serif' textLength="30" lengthAdjust="spacingAndGlyphs" stroke="#222" stroke-width="0.3" >P = 0.0439</text>
<text x="120.60" y="343.77" font-size="6.8" font-weight="bold" text-anchor="middle" font-style="italic" fill="#222" font-family='"Liberation Sans", sans-serif' textLength="30" lengthAdjust="spacingAndGlyphs" stroke="#222" stroke-width="0.3" >P = 0.9714</text>
<text x="192.00" y="394.40" font-size="7.5" font-weight="bold" text-anchor="middle" font-style="normal" fill="#222" font-family='"Liberation Sans", sans-serif' textLength="68.7" lengthAdjust="spacingAndGlyphs" transform="rotate(-90 192.00 394.40)" stroke="#222" stroke-width="0.3" >Valeric acid (mM/mg)</text>
<path d="M222.30 435.20V416.70H246.50V435.20" stroke="#E9BF55" stroke-width="1.1" fill="none" />
<line x1="234.40" y1="415.00" x2="234.40" y2="418.50" stroke="#E9BF55" stroke-width="1.0" stroke-opacity="0.7"/>
<line x1="228.80" y1="415.00" x2="240.00" y2="415.00" stroke="#E9BF55" stroke-width="1.0" stroke-opacity="0.7"/>
<line x1="228.80" y1="418.50" x2="240.00" y2="418.50" stroke="#E9BF55" stroke-width="1.0" stroke-opacity="0.7"/>
<path d="M231.50 412.80L233.80 415.10L231.50 417.40L229.20 415.10Z" fill="#E9BF55"/>
<path d="M238.40 411.50L240.70 413.80L238.40 416.10L236.10 413.80Z" fill="#E9BF55"/>
<path d="M231.50 417.20L233.80 419.50L231.50 421.80L229.20 419.50Z" fill="#E9BF55"/>
<path d="M238.40 416.50L240.70 418.80L238.40 421.10L236.10 418.80Z" fill="#E9BF55"/>
<line x1="234.40" y1="435.20" x2="234.40" y2="438.90" stroke="#3a3a3a" stroke-width="1.1" />
<path d="M259.60 435.20V401.80H283.50V435.20" stroke="#E76A6A" stroke-width="1.1" fill="none" />
<line x1="271.55" y1="399.00" x2="271.55" y2="404.70" stroke="#E76A6A" stroke-width="1.0" stroke-opacity="0.7"/>
<line x1="265.55" y1="399.00" x2="277.55" y2="399.00" stroke="#E76A6A" stroke-width="1.0" stroke-opacity="0.7"/>
<line x1="265.55" y1="404.70" x2="277.55" y2="404.70" stroke="#E76A6A" stroke-width="1.0" stroke-opacity="0.7"/>
<path d="M271.40 393.09L273.60 397.27L269.20 397.27Z" fill="#E76A6A"/>
<path d="M271.40 397.99L273.60 402.17L269.20 402.17Z" fill="#E76A6A"/>
<path d="M271.40 401.39L273.60 405.57L269.20 405.57Z" fill="#E76A6A"/>
<path d="M271.40 406.29L273.60 410.47L269.20 410.47Z" fill="#E76A6A"/>
<line x1="271.55" y1="435.20" x2="271.55" y2="438.90" stroke="#3a3a3a" stroke-width="1.1" />
<path d="M296.50 435.20V389.10H320.10V435.20" stroke="#4AA3A3" stroke-width="1.1" fill="none" />
<line x1="308.30" y1="381.80" x2="308.30" y2="395.90" stroke="#4AA3A3" stroke-width="1.0" stroke-opacity="0.7"/>
<line x1="302.30" y1="381.80" x2="314.30" y2="381.80" stroke="#4AA3A3" stroke-width="1.0" stroke-opacity="0.7"/>
<line x1="302.30" y1="395.90" x2="314.30" y2="395.90" stroke="#4AA3A3" stroke-width="1.0" stroke-opacity="0.7"/>
<circle cx="308.30" cy="367.00" r="2.0" fill="#4AA3A3" />
<circle cx="301.70" cy="397.30" r="2.0" fill="#4AA3A3" />
<circle cx="308.20" cy="395.40" r="2.0" fill="#4AA3A3" />
<circle cx="314.80" cy="396.10" r="2.0" fill="#4AA3A3" />
<line x1="308.30" y1="435.20" x2="308.30" y2="438.90" stroke="#3a3a3a" stroke-width="1.1" />
<line x1="210.50" y1="353.45" x2="210.50" y2="435.80" stroke="#5e5e5e" stroke-width="1.5" />
<line x1="209.90" y1="435.20" x2="333.00" y2="435.20" stroke="#3a3a3a" stroke-width="1.3" />
<line x1="206.80" y1="435.20" x2="210.50" y2="435.20" stroke="#3a3a3a" stroke-width="1.1" />
<text x="205.30" y="437.87" font-size="6.9" font-weight="bold" text-anchor="end" font-style="normal" fill="#222" font-family='"Liberation Sans", sans-serif' textLength="3.45" lengthAdjust="spacingAndGlyphs" stroke="#222" stroke-width="0.3" >0</text>
<line x1="206.80" y1="408.15" x2="210.50" y2="408.15" stroke="#3a3a3a" stroke-width="1.1" />
<text x="205.30" y="410.82" font-size="6.9" font-weight="bold" text-anchor="end" font-style="normal" fill="#222" font-family='"Liberation Sans", sans-serif' textLength="10.35" lengthAdjust="spacingAndGlyphs" stroke="#222" stroke-width="0.3" >100</text>
<line x1="206.80" y1="381.10" x2="210.50" y2="381.10" stroke="#3a3a3a" stroke-width="1.1" />
<text x="205.30" y="383.77" font-size="6.9" font-weight="bold" text-anchor="end" font-style="normal" fill="#222" font-family='"Liberation Sans", sans-serif' textLength="10.35" lengthAdjust="spacingAndGlyphs" stroke="#222" stroke-width="0.3" >200</text>
<line x1="206.80" y1="354.05" x2="210.50" y2="354.05" stroke="#3a3a3a" stroke-width="1.1" />
<text x="205.30" y="356.72" font-size="6.9" font-weight="bold" text-anchor="end" font-style="normal" fill="#222" font-family='"Liberation Sans", sans-serif' textLength="10.35" lengthAdjust="spacingAndGlyphs" stroke="#222" stroke-width="0.3" >300</text>
<text x="232.30" y="446.73" font-size="6.2" font-weight="bold" text-anchor="middle" font-style="normal" fill="#222" font-family='"Liberation Sans", sans-serif' textLength="36.2" lengthAdjust="spacingAndGlyphs" stroke="#222" stroke-width="0.3" >HU FMT NaCl</text>
<text x="272.70" y="446.73" font-size="6.2" font-weight="bold" text-anchor="middle" font-style="normal" fill="#222" font-family='"Liberation Sans", sans-serif' textLength="32.4" lengthAdjust="spacingAndGlyphs" stroke="#222" stroke-width="0.3" >HU FMT WT</text>
<text x="315.60" y="446.73" font-size="6.2" font-weight="bold" text-anchor="middle" font-style="normal" fill="#222" font-family='"Liberation Sans", sans-serif' textLength="40.4" lengthAdjust="spacingAndGlyphs" stroke="#222" stroke-width="0.3" >HU FMT LIPUS</text>
<path d="M234.70 345.00V340.40H308.40V345.00" stroke="#333" stroke-width="1.2" fill="none" />
<path d="M234.70 361.50V357.80H269.50V361.50" stroke="#333" stroke-width="1.2" fill="none" />
<path d="M272.90 361.50V357.80H308.40V361.50" stroke="#333" stroke-width="1.2" fill="none" />
<text x="271.70" y="336.37" font-size="6.8" font-weight="bold" text-anchor="middle" font-style="italic" fill="#222" font-family='"Liberation Sans", sans-serif' textLength="30" lengthAdjust="spacingAndGlyphs" stroke="#222" stroke-width="0.3" >P = 0.0134</text>
<text x="252.60" y="353.37" font-size="6.8" font-weight="bold" text-anchor="middle" font-style="italic" fill="#222" font-family='"Liberation Sans", sans-serif' textLength="30" lengthAdjust="spacingAndGlyphs" stroke="#222" stroke-width="0.3" >P = 0.1873</text>
<text x="291.50" y="353.37" font-size="6.8" font-weight="bold" text-anchor="middle" font-style="italic" fill="#222" font-family='"Liberation Sans", sans-serif' textLength="30" lengthAdjust="spacingAndGlyphs" stroke="#222" stroke-width="0.3" >P = 0.9804</text>
<text x="438.00" y="201.10" font-size="12.2" font-weight="bold" text-anchor="start" font-style="normal" fill="#111" font-family='"Liberation Serif", serif' textLength="106" lengthAdjust="spacingAndGlyphs" >Correlation heatmap</text>
<path d="M405.60 239.70V224.0H432.25V239.70" stroke="#8a8a8a" stroke-width="1.0" fill="none" />
<path d="M418.93 224.0V218.4H458.90V239.70" stroke="#8a8a8a" stroke-width="1.0" fill="none" />
<path d="M485.55 239.70V223.9H512.20V239.70" stroke="#8a8a8a" stroke-width="1.0" fill="none" />
<path d="M498.88 223.9V218.4H538.85V239.70" stroke="#8a8a8a" stroke-width="1.0" fill="none" />
<path d="M438.91 218.4V213.0H518.86V218.4" stroke="#8a8a8a" stroke-width="1.0" fill="none" />
<path d="M478.89 213.0V207.3H565.50V239.70" stroke="#8a8a8a" stroke-width="1.0" fill="none" />
<path d="M392.20 253.10H367.5V279.42H392.20" stroke="#8a8a8a" stroke-width="1.0" fill="none" />
<path d="M392.20 305.74H375.9V332.06H392.20" stroke="#8a8a8a" stroke-width="1.0" fill="none" />
<path d="M392.20 358.38H375.9V384.70H392.20" stroke="#8a8a8a" stroke-width="1.0" fill="none" />
<path d="M375.9 318.90H367.5V371.54H375.9" stroke="#8a8a8a" stroke-width="1.0" fill="none" />
<path d="M367.5 266.26H359.3V345.22H367.5" stroke="#8a8a8a" stroke-width="1.0" fill="none" />
<circle cx="405.60" cy="253.10" r="12.9" fill="#dc4b3b" stroke="#a89a96" stroke-width="0.7"/>
<text x="405.60" y="250.50" font-size="8.4" font-weight="normal" text-anchor="middle" font-style="normal" fill="#222" font-family='"Liberation Serif", serif' stroke="#222" stroke-width="0.12">0.87</text>
<path d="M403.45 262.60L403.45 261.25M403.45 262.60L404.73 262.18M403.45 262.60L404.24 263.69M403.45 262.60L402.66 263.69M403.45 262.60L402.17 262.18" stroke="#fff" stroke-width="1.1" stroke-opacity="0.5" stroke-linecap="round"/>
<path d="M407.75 262.60L407.75 261.25M407.75 262.60L409.03 262.18M407.75 262.60L408.54 263.69M407.75 262.60L406.96 263.69M407.75 262.60L406.47 262.18" stroke="#fff" stroke-width="1.1" stroke-opacity="0.5" stroke-linecap="round"/>
<circle cx="432.25" cy="253.10" r="12.9" fill="#de5341" stroke="#a89a96" stroke-width="0.7"/>
<text x="432.25" y="250.50" font-size="8.4" font-weight="normal" text-anchor="middle" font-style="normal" fill="#222" font-family='"Liberation Serif", serif' stroke="#222" stroke-width="0.12">0.83</text>
<path d="M430.10 262.60L430.10 261.25M430.10 262.60L431.38 262.18M430.10 262.60L430.89 263.69M430.10 262.60L429.31 263.69M430.10 262.60L428.82 262.18" stroke="#fff" stroke-width="1.1" stroke-opacity="0.5" stroke-linecap="round"/>
<path d="M434.40 262.60L434.40 261.25M434.40 262.60L435.68 262.18M434.40 262.60L435.19 263.69M434.40 262.60L433.61 263.69M434.40 262.60L433.12 262.18" stroke="#fff" stroke-width="1.1" stroke-opacity="0.5" stroke-linecap="round"/>
<circle cx="458.90" cy="253.10" r="12.9" fill="#e47258" stroke="#a89a96" stroke-width="0.7"/>
<text x="458.90" y="250.50" font-size="8.4" font-weight="normal" text-anchor="middle" font-style="normal" fill="#222" font-family='"Liberation Serif", serif' stroke="#222" stroke-width="0.12">0.68</text>
<path d="M458.90 262.60L458.90 261.25M458.90 262.60L460.18 262.18M458.90 262.60L459.69 263.69M458.90 262.60L458.11 263.69M458.90 262.60L457.62 262.18" stroke="#fff" stroke-width="1.1" stroke-opacity="0.5" stroke-linecap="round"/>
<circle cx="485.55" cy="253.10" r="12.9" fill="#e1644d" stroke="#a89a96" stroke-width="0.7"/>
<text x="485.55" y="250.50" font-size="8.4" font-weight="normal" text-anchor="middle" font-style="normal" fill="#222" font-family='"Liberation Serif", serif' stroke="#222" stroke-width="0.12">0.75</text>
<path d="M485.55 262.60L485.55 261.25M485.55 262.60L486.83 262.18M485.55 262.60L486.34 263.69M485.55 262.60L484.76 263.69M485.55 262.60L484.27 262.18" stroke="#fff" stroke-width="1.1" stroke-opacity="0.5" stroke-linecap="round"/>
<circle cx="512.20" cy="253.10" r="12.9" fill="#e36e55" stroke="#a89a96" stroke-width="0.7"/>
<text x="512.20" y="250.50" font-size="8.4" font-weight="normal" text-anchor="middle" font-style="normal" fill="#222" font-family='"Liberation Serif", serif' stroke="#222" stroke-width="0.12">0.70</text>
<path d="M512.20 262.60L512.20 261.25M512.20 262.60L513.48 262.18M512.20 262.60L512.99 263.69M512.20 262.60L511.41 263.69M512.20 262.60L510.92 262.18" stroke="#fff" stroke-width="1.1" stroke-opacity="0.5" stroke-linecap="round"/>
<circle cx="538.85" cy="253.10" r="12.9" fill="#e26850" stroke="#a89a96" stroke-width="0.7"/>
<text x="538.85" y="250.50" font-size="8.4" font-weight="normal" text-anchor="middle" font-style="normal" fill="#222" font-family='"Liberation Serif", serif' stroke="#222" stroke-width="0.12">0.73</text>
<path d="M538.85 262.60L538.85 261.25M538.85 262.60L540.13 262.18M538.85 262.60L539.64 263.69M538.85 262.60L538.06 263.69M538.85 262.60L537.57 262.18" stroke="#fff" stroke-width="1.1" stroke-opacity="0.5" stroke-linecap="round"/>
<circle cx="565.50" cy="253.10" r="12.9" fill="#82a3b8" stroke="#a89a96" stroke-width="0.7"/>
<text x="565.50" y="250.50" font-size="8.4" font-weight="normal" text-anchor="middle" font-style="normal" fill="#222" font-family='"Liberation Serif", serif' stroke="#222" stroke-width="0.12">-0.67</text>
<path d="M565.50 262.60L565.50 261.25M565.50 262.60L566.78 262.18M565.50 262.60L566.29 263.69M565.50 262.60L564.71 263.69M565.50 262.60L564.22 262.18" stroke="#fff" stroke-width="1.1" stroke-opacity="0.5" stroke-linecap="round"/>
<circle cx="405.60" cy="279.42" r="12.9" fill="#e05e48" stroke="#a89a96" stroke-width="0.7"/>
<text x="405.60" y="276.82" font-size="8.4" font-weight="normal" text-anchor="middle" font-style="normal" fill="#222" font-family='"Liberation Serif", serif' stroke="#222" stroke-width="0.12">0.78</text>
<path d="M405.60 288.92L405.60 287.57M405.60 288.92L406.88 288.50M405.60 288.92L406.39 290.01M405.60 288.92L404.81 290.01M405.60 288.92L404.32 288.50" stroke="#fff" stroke-width="1.1" stroke-opacity="0.5" stroke-linecap="round"/>
<circle cx="432.25" cy="279.42" r="12.9" fill="#de5542" stroke="#a89a96" stroke-width="0.7"/>
<text x="432.25" y="276.82" font-size="8.4" font-weight="normal" text-anchor="middle" font-style="normal" fill="#222" font-family='"Liberation Serif", serif' stroke="#222" stroke-width="0.12">0.82</text>
<path d="M430.10 288.92L430.10 287.57M430.10 288.92L431.38 288.50M430.10 288.92L430.89 290.01M430.10 288.92L429.31 290.01M430.10 288.92L428.82 288.50" stroke="#fff" stroke-width="1.1" stroke-opacity="0.5" stroke-linecap="round"/>
<path d="M434.40 288.92L434.40 287.57M434.40 288.92L435.68 288.50M434.40 288.92L435.19 290.01M434.40 288.92L433.61 290.01M434.40 288.92L433.12 288.50" stroke="#fff" stroke-width="1.1" stroke-opacity="0.5" stroke-linecap="round"/>
<circle cx="458.90" cy="279.42" r="12.9" fill="#e26850" stroke="#a89a96" stroke-width="0.7"/>
<text x="458.90" y="276.82" font-size="8.4" font-weight="normal" text-anchor="middle" font-style="normal" fill="#222" font-family='"Liberation Serif", serif' stroke="#222" stroke-width="0.12">0.73</text>
<path d="M458.90 288.92L458.90 287.57M458.90 288.92L460.18 288.50M458.90 288.92L459.69 290.01M458.90 288.92L458.11 290.01M458.90 288.92L457.62 288.50" stroke="#fff" stroke-width="1.1" stroke-opacity="0.5" stroke-linecap="round"/>
<circle cx="485.55" cy="279.42" r="12.9" fill="#db4536" stroke="#a89a96" stroke-width="0.7"/>
<text x="485.55" y="276.82" font-size="8.4" font-weight="normal" text-anchor="middle" font-style="normal" fill="#222" font-family='"Liberation Serif", serif' stroke="#222" stroke-width="0.12">0.90</text>
<path d="M481.25 288.92L481.25 287.57M481.25 288.92L482.53 288.50M481.25 288.92L482.04 290.01M481.25 288.92L480.46 290.01M481.25 288.92L479.97 288.50" stroke="#fff" stroke-width="1.1" stroke-opacity="0.5" stroke-linecap="round"/>
<path d="M485.55 288.92L485.55 287.57M485.55 288.92L486.83 288.50M485.55 288.92L486.34 290.01M485.55 288.92L484.76 290.01M485.55 288.92L484.27 288.50" stroke="#fff" stroke-width="1.1" stroke-opacity="0.5" stroke-linecap="round"/>
<path d="M489.85 288.92L489.85 287.57M489.85 288.92L491.13 288.50M489.85 288.92L490.64 290.01M489.85 288.92L489.06 290.01M489.85 288.92L488.57 288.50" stroke="#fff" stroke-width="1.1" stroke-opacity="0.5" stroke-linecap="round"/>
<circle cx="512.20" cy="279.42" r="12.9" fill="#db4536" stroke="#a89a96" stroke-width="0.7"/>
<text x="512.20" y="276.82" font-size="8.4" font-weight="normal" text-anchor="middle" font-style="normal" fill="#222" font-family='"Liberation Serif", serif' stroke="#222" stroke-width="0.12">0.90</text>
<path d="M507.90 288.92L507.90 287.57M507.90 288.92L509.18 288.50M507.90 288.92L508.69 290.01M507.90 288.92L507.11 290.01M507.90 288.92L506.62 288.50" stroke="#fff" stroke-width="1.1" stroke-opacity="0.5" stroke-linecap="round"/>
<path d="M512.20 288.92L512.20 287.57M512.20 288.92L513.48 288.50M512.20 288.92L512.99 290.01M512.20 288.92L511.41 290.01M512.20 288.92L510.92 288.50" stroke="#fff" stroke-width="1.1" stroke-opacity="0.5" stroke-linecap="round"/>
<path d="M516.50 288.92L516.50 287.57M516.50 288.92L517.78 288.50M516.50 288.92L517.29 290.01M516.50 288.92L515.71 290.01M516.50 288.92L515.22 288.50" stroke="#fff" stroke-width="1.1" stroke-opacity="0.5" stroke-linecap="round"/>
<circle cx="538.85" cy="279.42" r="12.9" fill="#e0604a" stroke="#a89a96" stroke-width="0.7"/>
<text x="538.85" y="276.82" font-size="8.4" font-weight="normal" text-anchor="middle" font-style="normal" fill="#222" font-family='"Liberation Serif", serif' stroke="#222" stroke-width="0.12">0.77</text>
<path d="M538.85 288.92L538.85 287.57M538.85 288.92L540.13 288.50M538.85 288.92L539.64 290.01M538.85 288.92L538.06 290.01M538.85 288.92L537.57 288.50" stroke="#fff" stroke-width="1.1" stroke-opacity="0.5" stroke-linecap="round"/>
<circle cx="565.50" cy="279.42" r="12.9" fill="#799cb7" stroke="#a89a96" stroke-width="0.7"/>
<text x="565.50" y="276.82" font-size="8.4" font-weight="normal" text-anchor="middle" font-style="normal" fill="#222" font-family='"Liberation Serif", serif' stroke="#222" stroke-width="0.12">-0.72</text>
<path d="M565.50 288.92L565.50 287.57M565.50 288.92L566.78 288.50M565.50 288.92L566.29 290.01M565.50 288.92L564.71 290.01M565.50 288.92L564.22 288.50" stroke="#fff" stroke-width="1.1" stroke-opacity="0.5" stroke-linecap="round"/>
<circle cx="405.60" cy="305.74" r="12.9" fill="#de5341" stroke="#a89a96" stroke-width="0.7"/>
<text x="405.60" y="303.14" font-size="8.4" font-weight="normal" text-anchor="middle" font-style="normal" fill="#222" font-family='"Liberation Serif", serif' stroke="#222" stroke-width="0.12">0.83</text>
<path d="M403.45 315.24L403.45 313.89M403.45 315.24L404.73 314.82M403.45 315.24L404.24 316.33M403.45 315.24L402.66 316.33M403.45 315.24L402.17 314.82" stroke="#fff" stroke-width="1.1" stroke-opacity="0.5" stroke-linecap="round"/>
<path d="M407.75 315.24L407.75 313.89M407.75 315.24L409.03 314.82M407.75 315.24L408.54 316.33M407.75 315.24L406.96 316.33M407.75 315.24L406.47 314.82" stroke="#fff" stroke-width="1.1" stroke-opacity="0.5" stroke-linecap="round"/>
<circle cx="432.25" cy="305.74" r="12.9" fill="#da3e32" stroke="#a89a96" stroke-width="0.7"/>
<text x="432.25" y="303.14" font-size="8.4" font-weight="normal" text-anchor="middle" font-style="normal" fill="#222" font-family='"Liberation Serif", serif' stroke="#222" stroke-width="0.12">0.93</text>
<path d="M427.95 315.24L427.95 313.89M427.95 315.24L429.23 314.82M427.95 315.24L428.74 316.33M427.95 315.24L427.16 316.33M427.95 315.24L426.67 314.82" stroke="#fff" stroke-width="1.1" stroke-opacity="0.5" stroke-linecap="round"/>
<path d="M432.25 315.24L432.25 313.89M432.25 315.24L433.53 314.82M432.25 315.24L433.04 316.33M432.25 315.24L431.46 316.33M432.25 315.24L430.97 314.82" stroke="#fff" stroke-width="1.1" stroke-opacity="0.5" stroke-linecap="round"/>
<path d="M436.55 315.24L436.55 313.89M436.55 315.24L437.83 314.82M436.55 315.24L437.34 316.33M436.55 315.24L435.76 316.33M436.55 315.24L435.27 314.82" stroke="#fff" stroke-width="1.1" stroke-opacity="0.5" stroke-linecap="round"/>
<circle cx="458.90" cy="305.74" r="12.9" fill="#da3e32" stroke="#a89a96" stroke-width="0.7"/>
<text x="458.90" y="303.14" font-size="8.4" font-weight="normal" text-anchor="middle" font-style="normal" fill="#222" font-family='"Liberation Serif", serif' stroke="#222" stroke-width="0.12">0.93</text>
<path d="M454.60 315.24L454.60 313.89M454.60 315.24L455.88 314.82M454.60 315.24L455.39 316.33M454.60 315.24L453.81 316.33M454.60 315.24L453.32 314.82" stroke="#fff" stroke-width="1.1" stroke-opacity="0.5" stroke-linecap="round"/>
<path d="M458.90 315.24L458.90 313.89M458.90 315.24L460.18 314.82M458.90 315.24L459.69 316.33M458.90 315.24L458.11 316.33M458.90 315.24L457.62 314.82" stroke="#fff" stroke-width="1.1" stroke-opacity="0.5" stroke-linecap="round"/>
<path d="M463.20 315.24L463.20 313.89M463.20 315.24L464.48 314.82M463.20 315.24L463.99 316.33M463.20 315.24L462.41 316.33M463.20 315.24L461.92 314.82" stroke="#fff" stroke-width="1.1" stroke-opacity="0.5" stroke-linecap="round"/>
<circle cx="485.55" cy="305.74" r="12.9" fill="#e1624b" stroke="#a89a96" stroke-width="0.7"/>
<text x="485.55" y="303.14" font-size="8.4" font-weight="normal" text-anchor="middle" font-style="normal" fill="#222" font-family='"Liberation Serif", serif' stroke="#222" stroke-width="0.12">0.76</text>
<path d="M485.55 315.24L485.55 313.89M485.55 315.24L486.83 314.82M485.55 315.24L486.34 316.33M485.55 315.24L484.76 316.33M485.55 315.24L484.27 314.82" stroke="#fff" stroke-width="1.1" stroke-opacity="0.5" stroke-linecap="round"/>
<circle cx="512.20" cy="305.74" r="12.9" fill="#df5945" stroke="#a89a96" stroke-width="0.7"/>
<text x="512.20" y="303.14" font-size="8.4" font-weight="normal" text-anchor="middle" font-style="normal" fill="#222" font-family='"Liberation Serif", serif' stroke="#222" stroke-width="0.12">0.80</text>
<path d="M510.05 315.24L510.05 313.89M510.05 315.24L511.33 314.82M510.05 315.24L510.84 316.33M510.05 315.24L509.26 316.33M510.05 315.24L508.77 314.82" stroke="#fff" stroke-width="1.1" stroke-opacity="0.5" stroke-linecap="round"/>
<path d="M514.35 315.24L514.35 313.89M514.35 315.24L515.63 314.82M514.35 315.24L515.14 316.33M514.35 315.24L513.56 316.33M514.35 315.24L513.07 314.82" stroke="#fff" stroke-width="1.1" stroke-opacity="0.5" stroke-linecap="round"/>
<circle cx="538.85" cy="305.74" r="12.9" fill="#df5945" stroke="#a89a96" stroke-width="0.7"/>
<text x="538.85" y="303.14" font-size="8.4" font-weight="normal" text-anchor="middle" font-style="normal" fill="#222" font-family='"Liberation Serif", serif' stroke="#222" stroke-width="0.12">0.80</text>
<path d="M536.70 315.24L536.70 313.89M536.70 315.24L537.98 314.82M536.70 315.24L537.49 316.33M536.70 315.24L535.91 316.33M536.70 315.24L535.42 314.82" stroke="#fff" stroke-width="1.1" stroke-opacity="0.5" stroke-linecap="round"/>
<path d="M541.00 315.24L541.00 313.89M541.00 315.24L542.28 314.82M541.00 315.24L541.79 316.33M541.00 315.24L540.21 316.33M541.00 315.24L539.72 314.82" stroke="#fff" stroke-width="1.1" stroke-opacity="0.5" stroke-linecap="round"/>
<circle cx="565.50" cy="305.74" r="12.9" fill="#5883b5" stroke="#a89a96" stroke-width="0.7"/>
<text x="565.50" y="303.14" font-size="8.4" font-weight="normal" text-anchor="middle" font-style="normal" fill="#222" font-family='"Liberation Serif", serif' stroke="#222" stroke-width="0.12">-0.90</text>
<path d="M561.20 315.24L561.20 313.89M561.20 315.24L562.48 314.82M561.20 315.24L561.99 316.33M561.20 315.24L560.41 316.33M561.20 315.24L559.92 314.82" stroke="#fff" stroke-width="1.1" stroke-opacity="0.5" stroke-linecap="round"/>
<path d="M565.50 315.24L565.50 313.89M565.50 315.24L566.78 314.82M565.50 315.24L566.29 316.33M565.50 315.24L564.71 316.33M565.50 315.24L564.22 314.82" stroke="#fff" stroke-width="1.1" stroke-opacity="0.5" stroke-linecap="round"/>
<path d="M569.80 315.24L569.80 313.89M569.80 315.24L571.08 314.82M569.80 315.24L570.59 316.33M569.80 315.24L569.01 316.33M569.80 315.24L568.52 314.82" stroke="#fff" stroke-width="1.1" stroke-opacity="0.5" stroke-linecap="round"/>
<circle cx="405.60" cy="332.06" r="12.9" fill="#da3e32" stroke="#a89a96" stroke-width="0.7"/>
<text x="405.60" y="329.46" font-size="8.4" font-weight="normal" text-anchor="middle" font-style="normal" fill="#222" font-family='"Liberation Serif", serif' stroke="#222" stroke-width="0.12">0.93</text>
<path d="M401.30 341.56L401.30 340.21M401.30 341.56L402.58 341.14M401.30 341.56L402.09 342.65M401.30 341.56L400.51 342.65M401.30 341.56L400.02 341.14" stroke="#fff" stroke-width="1.1" stroke-opacity="0.5" stroke-linecap="round"/>
<path d="M405.60 341.56L405.60 340.21M405.60 341.56L406.88 341.14M405.60 341.56L406.39 342.65M405.60 341.56L404.81 342.65M405.60 341.56L404.32 341.14" stroke="#fff" stroke-width="1.1" stroke-opacity="0.5" stroke-linecap="round"/>
<path d="M409.90 341.56L409.90 340.21M409.90 341.56L411.18 341.14M409.90 341.56L410.69 342.65M409.90 341.56L409.11 342.65M409.90 341.56L408.62 341.14" stroke="#fff" stroke-width="1.1" stroke-opacity="0.5" stroke-linecap="round"/>
<circle cx="432.25" cy="332.06" r="12.9" fill="#d73027" stroke="#a89a96" stroke-width="0.7"/>
<text x="432.25" y="329.46" font-size="8.4" font-weight="normal" text-anchor="middle" font-style="normal" fill="#222" font-family='"Liberation Serif", serif' stroke="#222" stroke-width="0.12">1.00</text>
<path d="M427.95 341.56L427.95 340.21M427.95 341.56L429.23 341.14M427.95 341.56L428.74 342.65M427.95 341.56L427.16 342.65M427.95 341.56L426.67 341.14" stroke="#fff" stroke-width="1.1" stroke-opacity="0.5" stroke-linecap="round"/>
<path d="M432.25 341.56L432.25 340.21M432.25 341.56L433.53 341.14M432.25 341.56L433.04 342.65M432.25 341.56L431.46 342.65M432.25 341.56L430.97 341.14" stroke="#fff" stroke-width="1.1" stroke-opacity="0.5" stroke-linecap="round"/>
<path d="M436.55 341.56L436.55 340.21M436.55 341.56L437.83 341.14M436.55 341.56L437.34 342.65M436.55 341.56L435.76 342.65M436.55 341.56L435.27 341.14" stroke="#fff" stroke-width="1.1" stroke-opacity="0.5" stroke-linecap="round"/>
<circle cx="458.90" cy="332.06" r="12.9" fill="#da4133" stroke="#a89a96" stroke-width="0.7"/>
<text x="458.90" y="329.46" font-size="8.4" font-weight="normal" text-anchor="middle" font-style="normal" fill="#222" font-family='"Liberation Serif", serif' stroke="#222" stroke-width="0.12">0.92</text>
<path d="M454.60 341.56L454.60 340.21M454.60 341.56L455.88 341.14M454.60 341.56L455.39 342.65M454.60 341.56L453.81 342.65M454.60 341.56L453.32 341.14" stroke="#fff" stroke-width="1.1" stroke-opacity="0.5" stroke-linecap="round"/>
<path d="M458.90 341.56L458.90 340.21M458.90 341.56L460.18 341.14M458.90 341.56L459.69 342.65M458.90 341.56L458.11 342.65M458.90 341.56L457.62 341.14" stroke="#fff" stroke-width="1.1" stroke-opacity="0.5" stroke-linecap="round"/>
<path d="M463.20 341.56L463.20 340.21M463.20 341.56L464.48 341.14M463.20 341.56L463.99 342.65M463.20 341.56L462.41 342.65M463.20 341.56L461.92 341.14" stroke="#fff" stroke-width="1.1" stroke-opacity="0.5" stroke-linecap="round"/>
<circle cx="485.55" cy="332.06" r="12.9" fill="#db4536" stroke="#a89a96" stroke-width="0.7"/>
<text x="485.55" y="329.46" font-size="8.4" font-weight="normal" text-anchor="middle" font-style="normal" fill="#222" font-family='"Liberation Serif", serif' stroke="#222" stroke-width="0.12">0.90</text>
<path d="M483.40 341.56L483.40 340.21M483.40 341.56L484.68 341.14M483.40 341.56L484.19 342.65M483.40 341.56L482.61 342.65M483.40 341.56L482.12 341.14" stroke="#fff" stroke-width="1.1" stroke-opacity="0.5" stroke-linecap="round"/>
<path d="M487.70 341.56L487.70 340.21M487.70 341.56L488.98 341.14M487.70 341.56L488.49 342.65M487.70 341.56L486.91 342.65M487.70 341.56L486.42 341.14" stroke="#fff" stroke-width="1.1" stroke-opacity="0.5" stroke-linecap="round"/>
<circle cx="512.20" cy="332.06" r="12.9" fill="#dc4939" stroke="#a89a96" stroke-width="0.7"/>
<text x="512.20" y="329.46" font-size="8.4" font-weight="normal" text-anchor="middle" font-style="normal" fill="#222" font-family='"Liberation Serif", serif' stroke="#222" stroke-width="0.12">0.88</text>
<path d="M510.05 341.56L510.05 340.21M510.05 341.56L511.33 341.14M510.05 341.56L510.84 342.65M510.05 341.56L509.26 342.65M510.05 341.56L508.77 341.14" stroke="#fff" stroke-width="1.1" stroke-opacity="0.5" stroke-linecap="round"/>
<path d="M514.35 341.56L514.35 340.21M514.35 341.56L515.63 341.14M514.35 341.56L515.14 342.65M514.35 341.56L513.56 342.65M514.35 341.56L513.07 341.14" stroke="#fff" stroke-width="1.1" stroke-opacity="0.5" stroke-linecap="round"/>
<circle cx="538.85" cy="332.06" r="12.9" fill="#de5542" stroke="#a89a96" stroke-width="0.7"/>
<text x="538.85" y="329.46" font-size="8.4" font-weight="normal" text-anchor="middle" font-style="normal" fill="#222" font-family='"Liberation Serif", serif' stroke="#222" stroke-width="0.12">0.82</text>
<path d="M536.70 341.56L536.70 340.21M536.70 341.56L537.98 341.14M536.70 341.56L537.49 342.65M536.70 341.56L535.91 342.65M536.70 341.56L535.42 341.14" stroke="#fff" stroke-width="1.1" stroke-opacity="0.5" stroke-linecap="round"/>
<path d="M541.00 341.56L541.00 340.21M541.00 341.56L542.28 341.14M541.00 341.56L541.79 342.65M541.00 341.56L540.21 342.65M541.00 341.56L539.72 341.14" stroke="#fff" stroke-width="1.1" stroke-opacity="0.5" stroke-linecap="round"/>
<circle cx="565.50" cy="332.06" r="12.9" fill="#527fb5" stroke="#a89a96" stroke-width="0.7"/>
<text x="565.50" y="329.46" font-size="8.4" font-weight="normal" text-anchor="middle" font-style="normal" fill="#222" font-family='"Liberation Serif", serif' stroke="#222" stroke-width="0.12">-0.93</text>
<path d="M561.20 341.56L561.20 340.21M561.20 341.56L562.48 341.14M561.20 341.56L561.99 342.65M561.20 341.56L560.41 342.65M561.20 341.56L559.92 341.14" stroke="#fff" stroke-width="1.1" stroke-opacity="0.5" stroke-linecap="round"/>
<path d="M565.50 341.56L565.50 340.21M565.50 341.56L566.78 341.14M565.50 341.56L566.29 342.65M565.50 341.56L564.71 342.65M565.50 341.56L564.22 341.14" stroke="#fff" stroke-width="1.1" stroke-opacity="0.5" stroke-linecap="round"/>
<path d="M569.80 341.56L569.80 340.21M569.80 341.56L571.08 341.14M569.80 341.56L570.59 342.65M569.80 341.56L569.01 342.65M569.80 341.56L568.52 341.14" stroke="#fff" stroke-width="1.1" stroke-opacity="0.5" stroke-linecap="round"/>
<circle cx="405.60" cy="358.38" r="12.9" fill="#db4536" stroke="#a89a96" stroke-width="0.7"/>
<text x="405.60" y="355.78" font-size="8.4" font-weight="normal" text-anchor="middle" font-style="normal" fill="#222" font-family='"Liberation Serif", serif' stroke="#222" stroke-width="0.12">0.90</text>
<path d="M401.30 367.88L401.30 366.53M401.30 367.88L402.58 367.46M401.30 367.88L402.09 368.97M401.30 367.88L400.51 368.97M401.30 367.88L400.02 367.46" stroke="#fff" stroke-width="1.1" stroke-opacity="0.5" stroke-linecap="round"/>
<path d="M405.60 367.88L405.60 366.53M405.60 367.88L406.88 367.46M405.60 367.88L406.39 368.97M405.60 367.88L404.81 368.97M405.60 367.88L404.32 367.46" stroke="#fff" stroke-width="1.1" stroke-opacity="0.5" stroke-linecap="round"/>
<path d="M409.90 367.88L409.90 366.53M409.90 367.88L411.18 367.46M409.90 367.88L410.69 368.97M409.90 367.88L409.11 368.97M409.90 367.88L408.62 367.46" stroke="#fff" stroke-width="1.1" stroke-opacity="0.5" stroke-linecap="round"/>
<circle cx="432.25" cy="358.38" r="12.9" fill="#dc4b3b" stroke="#a89a96" stroke-width="0.7"/>
<text x="432.25" y="355.78" font-size="8.4" font-weight="normal" text-anchor="middle" font-style="normal" fill="#222" font-family='"Liberation Serif", serif' stroke="#222" stroke-width="0.12">0.87</text>
<path d="M430.10 367.88L430.10 366.53M430.10 367.88L431.38 367.46M430.10 367.88L430.89 368.97M430.10 367.88L429.31 368.97M430.10 367.88L428.82 367.46" stroke="#fff" stroke-width="1.1" stroke-opacity="0.5" stroke-linecap="round"/>
<path d="M434.40 367.88L434.40 366.53M434.40 367.88L435.68 367.46M434.40 367.88L435.19 368.97M434.40 367.88L433.61 368.97M434.40 367.88L433.12 367.46" stroke="#fff" stroke-width="1.1" stroke-opacity="0.5" stroke-linecap="round"/>
<circle cx="458.90" cy="358.38" r="12.9" fill="#dc4b3b" stroke="#a89a96" stroke-width="0.7"/>
<text x="458.90" y="355.78" font-size="8.4" font-weight="normal" text-anchor="middle" font-style="normal" fill="#222" font-family='"Liberation Serif", serif' stroke="#222" stroke-width="0.12">0.87</text>
<path d="M456.75 367.88L456.75 366.53M456.75 367.88L458.03 367.46M456.75 367.88L457.54 368.97M456.75 367.88L455.96 368.97M456.75 367.88L455.47 367.46" stroke="#fff" stroke-width="1.1" stroke-opacity="0.5" stroke-linecap="round"/>
<path d="M461.05 367.88L461.05 366.53M461.05 367.88L462.33 367.46M461.05 367.88L461.84 368.97M461.05 367.88L460.26 368.97M461.05 367.88L459.77 367.46" stroke="#fff" stroke-width="1.1" stroke-opacity="0.5" stroke-linecap="round"/>
<circle cx="485.55" cy="358.38" r="12.9" fill="#d8342a" stroke="#a89a96" stroke-width="0.7"/>
<text x="485.55" y="355.78" font-size="8.4" font-weight="normal" text-anchor="middle" font-style="normal" fill="#222" font-family='"Liberation Serif", serif' stroke="#222" stroke-width="0.12">0.98</text>
<path d="M481.25 367.88L481.25 366.53M481.25 367.88L482.53 367.46M481.25 367.88L482.04 368.97M481.25 367.88L480.46 368.97M481.25 367.88L479.97 367.46" stroke="#fff" stroke-width="1.1" stroke-opacity="0.5" stroke-linecap="round"/>
<path d="M485.55 367.88L485.55 366.53M485.55 367.88L486.83 367.46M485.55 367.88L486.34 368.97M485.55 367.88L484.76 368.97M485.55 367.88L484.27 367.46" stroke="#fff" stroke-width="1.1" stroke-opacity="0.5" stroke-linecap="round"/>
<path d="M489.85 367.88L489.85 366.53M489.85 367.88L491.13 367.46M489.85 367.88L490.64 368.97M489.85 367.88L489.06 368.97M489.85 367.88L488.57 367.46" stroke="#fff" stroke-width="1.1" stroke-opacity="0.5" stroke-linecap="round"/>
<circle cx="512.20" cy="358.38" r="12.9" fill="#da3e32" stroke="#a89a96" stroke-width="0.7"/>
<text x="512.20" y="355.78" font-size="8.4" font-weight="normal" text-anchor="middle" font-style="normal" fill="#222" font-family='"Liberation Serif", serif' stroke="#222" stroke-width="0.12">0.93</text>
<path d="M507.90 367.88L507.90 366.53M507.90 367.88L509.18 367.46M507.90 367.88L508.69 368.97M507.90 367.88L507.11 368.97M507.90 367.88L506.62 367.46" stroke="#fff" stroke-width="1.1" stroke-opacity="0.5" stroke-linecap="round"/>
<path d="M512.20 367.88L512.20 366.53M512.20 367.88L513.48 367.46M512.20 367.88L512.99 368.97M512.20 367.88L511.41 368.97M512.20 367.88L510.92 367.46" stroke="#fff" stroke-width="1.1" stroke-opacity="0.5" stroke-linecap="round"/>
<path d="M516.50 367.88L516.50 366.53M516.50 367.88L517.78 367.46M516.50 367.88L517.29 368.97M516.50 367.88L515.71 368.97M516.50 367.88L515.22 367.46" stroke="#fff" stroke-width="1.1" stroke-opacity="0.5" stroke-linecap="round"/>
<circle cx="538.85" cy="358.38" r="12.9" fill="#da4133" stroke="#a89a96" stroke-width="0.7"/>
<text x="538.85" y="355.78" font-size="8.4" font-weight="normal" text-anchor="middle" font-style="normal" fill="#222" font-family='"Liberation Serif", serif' stroke="#222" stroke-width="0.12">0.92</text>
<path d="M534.55 367.88L534.55 366.53M534.55 367.88L535.83 367.46M534.55 367.88L535.34 368.97M534.55 367.88L533.76 368.97M534.55 367.88L533.27 367.46" stroke="#fff" stroke-width="1.1" stroke-opacity="0.5" stroke-linecap="round"/>
<path d="M538.85 367.88L538.85 366.53M538.85 367.88L540.13 367.46M538.85 367.88L539.64 368.97M538.85 367.88L538.06 368.97M538.85 367.88L537.57 367.46" stroke="#fff" stroke-width="1.1" stroke-opacity="0.5" stroke-linecap="round"/>
<path d="M543.15 367.88L543.15 366.53M543.15 367.88L544.43 367.46M543.15 367.88L543.94 368.97M543.15 367.88L542.36 368.97M543.15 367.88L541.87 367.46" stroke="#fff" stroke-width="1.1" stroke-opacity="0.5" stroke-linecap="round"/>
<circle cx="565.50" cy="358.38" r="12.9" fill="#5b86b5" stroke="#a89a96" stroke-width="0.7"/>
<text x="565.50" y="355.78" font-size="8.4" font-weight="normal" text-anchor="middle" font-style="normal" fill="#222" font-family='"Liberation Serif", serif' stroke="#222" stroke-width="0.12">-0.88</text>
<path d="M563.35 367.88L563.35 366.53M563.35 367.88L564.63 367.46M563.35 367.88L564.14 368.97M563.35 367.88L562.56 368.97M563.35 367.88L562.07 367.46" stroke="#fff" stroke-width="1.1" stroke-opacity="0.5" stroke-linecap="round"/>
<path d="M567.65 367.88L567.65 366.53M567.65 367.88L568.93 367.46M567.65 367.88L568.44 368.97M567.65 367.88L566.86 368.97M567.65 367.88L566.37 367.46" stroke="#fff" stroke-width="1.1" stroke-opacity="0.5" stroke-linecap="round"/>
<circle cx="405.60" cy="384.70" r="12.9" fill="#da4133" stroke="#a89a96" stroke-width="0.7"/>
<text x="405.60" y="382.10" font-size="8.4" font-weight="normal" text-anchor="middle" font-style="normal" fill="#222" font-family='"Liberation Serif", serif' stroke="#222" stroke-width="0.12">0.92</text>
<path d="M401.30 394.20L401.30 392.85M401.30 394.20L402.58 393.78M401.30 394.20L402.09 395.29M401.30 394.20L400.51 395.29M401.30 394.20L400.02 393.78" stroke="#fff" stroke-width="1.1" stroke-opacity="0.5" stroke-linecap="round"/>
<path d="M405.60 394.20L405.60 392.85M405.60 394.20L406.88 393.78M405.60 394.20L406.39 395.29M405.60 394.20L404.81 395.29M405.60 394.20L404.32 393.78" stroke="#fff" stroke-width="1.1" stroke-opacity="0.5" stroke-linecap="round"/>
<path d="M409.90 394.20L409.90 392.85M409.90 394.20L411.18 393.78M409.90 394.20L410.69 395.29M409.90 394.20L409.11 395.29M409.90 394.20L408.62 393.78" stroke="#fff" stroke-width="1.1" stroke-opacity="0.5" stroke-linecap="round"/>
<circle cx="432.25" cy="384.70" r="12.9" fill="#dc4939" stroke="#a89a96" stroke-width="0.7"/>
<text x="432.25" y="382.10" font-size="8.4" font-weight="normal" text-anchor="middle" font-style="normal" fill="#222" font-family='"Liberation Serif", serif' stroke="#222" stroke-width="0.12">0.88</text>
<path d="M430.10 394.20L430.10 392.85M430.10 394.20L431.38 393.78M430.10 394.20L430.89 395.29M430.10 394.20L429.31 395.29M430.10 394.20L428.82 393.78" stroke="#fff" stroke-width="1.1" stroke-opacity="0.5" stroke-linecap="round"/>
<path d="M434.40 394.20L434.40 392.85M434.40 394.20L435.68 393.78M434.40 394.20L435.19 395.29M434.40 394.20L433.61 395.29M434.40 394.20L433.12 393.78" stroke="#fff" stroke-width="1.1" stroke-opacity="0.5" stroke-linecap="round"/>
<circle cx="458.90" cy="384.70" r="12.9" fill="#df5945" stroke="#a89a96" stroke-width="0.7"/>
<text x="458.90" y="382.10" font-size="8.4" font-weight="normal" text-anchor="middle" font-style="normal" fill="#222" font-family='"Liberation Serif", serif' stroke="#222" stroke-width="0.12">0.80</text>
<path d="M456.75 394.20L456.75 392.85M456.75 394.20L458.03 393.78M456.75 394.20L457.54 395.29M456.75 394.20L455.96 395.29M456.75 394.20L455.47 393.78" stroke="#fff" stroke-width="1.1" stroke-opacity="0.5" stroke-linecap="round"/>
<path d="M461.05 394.20L461.05 392.85M461.05 394.20L462.33 393.78M461.05 394.20L461.84 395.29M461.05 394.20L460.26 395.29M461.05 394.20L459.77 393.78" stroke="#fff" stroke-width="1.1" stroke-opacity="0.5" stroke-linecap="round"/>
<circle cx="485.55" cy="384.70" r="12.9" fill="#d93a2f" stroke="#a89a96" stroke-width="0.7"/>
<text x="485.55" y="382.10" font-size="8.4" font-weight="normal" text-anchor="middle" font-style="normal" fill="#222" font-family='"Liberation Serif", serif' stroke="#222" stroke-width="0.12">0.95</text>
<path d="M481.25 394.20L481.25 392.85M481.25 394.20L482.53 393.78M481.25 394.20L482.04 395.29M481.25 394.20L480.46 395.29M481.25 394.20L479.97 393.78" stroke="#fff" stroke-width="1.1" stroke-opacity="0.5" stroke-linecap="round"/>
<path d="M485.55 394.20L485.55 392.85M485.55 394.20L486.83 393.78M485.55 394.20L486.34 395.29M485.55 394.20L484.76 395.29M485.55 394.20L484.27 393.78" stroke="#fff" stroke-width="1.1" stroke-opacity="0.5" stroke-linecap="round"/>
<path d="M489.85 394.20L489.85 392.85M489.85 394.20L491.13 393.78M489.85 394.20L490.64 395.29M489.85 394.20L489.06 395.29M489.85 394.20L488.57 393.78" stroke="#fff" stroke-width="1.1" stroke-opacity="0.5" stroke-linecap="round"/>
<circle cx="512.20" cy="384.70" r="12.9" fill="#da4133" stroke="#a89a96" stroke-width="0.7"/>
<text x="512.20" y="382.10" font-size="8.4" font-weight="normal" text-anchor="middle" font-style="normal" fill="#222" font-family='"Liberation Serif", serif' stroke="#222" stroke-width="0.12">0.92</text>
<path d="M507.90 394.20L507.90 392.85M507.90 394.20L509.18 393.78M507.90 394.20L508.69 395.29M507.90 394.20L507.11 395.29M507.90 394.20L506.62 393.78" stroke="#fff" stroke-width="1.1" stroke-opacity="0.5" stroke-linecap="round"/>
<path d="M512.20 394.20L512.20 392.85M512.20 394.20L513.48 393.78M512.20 394.20L512.99 395.29M512.20 394.20L511.41 395.29M512.20 394.20L510.92 393.78" stroke="#fff" stroke-width="1.1" stroke-opacity="0.5" stroke-linecap="round"/>
<path d="M516.50 394.20L516.50 392.85M516.50 394.20L517.78 393.78M516.50 394.20L517.29 395.29M516.50 394.20L515.71 395.29M516.50 394.20L515.22 393.78" stroke="#fff" stroke-width="1.1" stroke-opacity="0.5" stroke-linecap="round"/>
<circle cx="538.85" cy="384.70" r="12.9" fill="#db4536" stroke="#a89a96" stroke-width="0.7"/>
<text x="538.85" y="382.10" font-size="8.4" font-weight="normal" text-anchor="middle" font-style="normal" fill="#222" font-family='"Liberation Serif", serif' stroke="#222" stroke-width="0.12">0.90</text>
<path d="M534.55 394.20L534.55 392.85M534.55 394.20L535.83 393.78M534.55 394.20L535.34 395.29M534.55 394.20L533.76 395.29M534.55 394.20L533.27 393.78" stroke="#fff" stroke-width="1.1" stroke-opacity="0.5" stroke-linecap="round"/>
<path d="M538.85 394.20L538.85 392.85M538.85 394.20L540.13 393.78M538.85 394.20L539.64 395.29M538.85 394.20L538.06 395.29M538.85 394.20L537.57 393.78" stroke="#fff" stroke-width="1.1" stroke-opacity="0.5" stroke-linecap="round"/>
<path d="M543.15 394.20L543.15 392.85M543.15 394.20L544.43 393.78M543.15 394.20L543.94 395.29M543.15 394.20L542.36 395.29M543.15 394.20L541.87 393.78" stroke="#fff" stroke-width="1.1" stroke-opacity="0.5" stroke-linecap="round"/>
<circle cx="565.50" cy="384.70" r="12.9" fill="#618ab6" stroke="#a89a96" stroke-width="0.7"/>
<text x="565.50" y="382.10" font-size="8.4" font-weight="normal" text-anchor="middle" font-style="normal" fill="#222" font-family='"Liberation Serif", serif' stroke="#222" stroke-width="0.12">-0.85</text>
<path d="M563.35 394.20L563.35 392.85M563.35 394.20L564.63 393.78M563.35 394.20L564.14 395.29M563.35 394.20L562.56 395.29M563.35 394.20L562.07 393.78" stroke="#fff" stroke-width="1.1" stroke-opacity="0.5" stroke-linecap="round"/>
<path d="M567.65 394.20L567.65 392.85M567.65 394.20L568.93 393.78M567.65 394.20L568.44 395.29M567.65 394.20L566.86 395.29M567.65 394.20L566.37 393.78" stroke="#fff" stroke-width="1.1" stroke-opacity="0.5" stroke-linecap="round"/>
<text x="585.40" y="253.30" font-size="11.2" font-weight="normal" text-anchor="start" font-style="normal" fill="#222" font-family='"Liberation Serif", serif' textLength="47.94" lengthAdjust="spacingAndGlyphs" >Acetic acid</text>
<text x="585.40" y="279.62" font-size="11.2" font-weight="normal" text-anchor="start" font-style="normal" fill="#222" font-family='"Liberation Serif", serif' textLength="62.06" lengthAdjust="spacingAndGlyphs" >Isovaleric acid</text>
<text x="585.40" y="305.94" font-size="11.2" font-weight="normal" text-anchor="start" font-style="normal" fill="#222" font-family='"Liberation Serif", serif' textLength="61.5" lengthAdjust="spacingAndGlyphs" >Propionic acid</text>
<text x="585.40" y="332.26" font-size="11.2" font-weight="normal" text-anchor="start" font-style="normal" fill="#222" font-family='"Liberation Serif", serif' textLength="52.08" lengthAdjust="spacingAndGlyphs" >Butyric acid</text>
<text x="585.40" y="358.58" font-size="11.2" font-weight="normal" text-anchor="start" font-style="normal" fill="#222" font-family='"Liberation Serif", serif' textLength="63.25" lengthAdjust="spacingAndGlyphs" >Isobutyric acid</text>
<text x="585.40" y="384.90" font-size="11.2" font-weight="normal" text-anchor="start" font-style="normal" fill="#222" font-family='"Liberation Serif", serif' textLength="50.3" lengthAdjust="spacingAndGlyphs" >Valeric acid</text>
<line x1="405.60" y1="397.90" x2="405.60" y2="401.10" stroke="#8a8a8a" stroke-width="0.8" />
<text x="402.60" y="410.60" font-size="10.9" font-weight="normal" text-anchor="start" font-style="normal" fill="#222" font-family='"Liberation Serif", serif' textLength="172.55" lengthAdjust="spacingAndGlyphs" transform="rotate(29.5 402.60 410.60)" >Gastrocnemius muscle contractile in situ</text>
<line x1="432.25" y1="397.90" x2="432.25" y2="401.10" stroke="#8a8a8a" stroke-width="0.8" />
<text x="429.25" y="410.60" font-size="10.9" font-weight="normal" text-anchor="start" font-style="normal" fill="#222" font-family='"Liberation Serif", serif' textLength="176.08" lengthAdjust="spacingAndGlyphs" transform="rotate(29.5 429.25 410.60)" >Gastrocnemius muscle contractile in vivo</text>
<line x1="458.90" y1="397.90" x2="458.90" y2="401.10" stroke="#8a8a8a" stroke-width="0.8" />
<text x="455.90" y="410.60" font-size="10.9" font-weight="normal" text-anchor="start" font-style="normal" fill="#222" font-family='"Liberation Serif", serif' textLength="76.64" lengthAdjust="spacingAndGlyphs" transform="rotate(29.5 455.90 410.60)" >Latency to fall off</text>
<line x1="485.55" y1="397.90" x2="485.55" y2="401.10" stroke="#8a8a8a" stroke-width="0.8" />
<text x="482.55" y="410.60" font-size="10.9" font-weight="normal" text-anchor="start" font-style="normal" fill="#222" font-family='"Liberation Serif", serif' textLength="95.7" lengthAdjust="spacingAndGlyphs" transform="rotate(29.5 482.55 410.60)" >The power of gripping</text>
<line x1="512.20" y1="397.90" x2="512.20" y2="401.10" stroke="#8a8a8a" stroke-width="0.8" />
<text x="509.20" y="410.60" font-size="10.9" font-weight="normal" text-anchor="start" font-style="normal" fill="#222" font-family='"Liberation Serif", serif' textLength="95.83" lengthAdjust="spacingAndGlyphs" transform="rotate(29.5 509.20 410.60)" >Total distance traveled</text>
<line x1="538.85" y1="397.90" x2="538.85" y2="401.10" stroke="#8a8a8a" stroke-width="0.8" />
<text x="535.85" y="410.60" font-size="10.9" font-weight="normal" text-anchor="start" font-style="normal" fill="#222" font-family='"Liberation Serif", serif' textLength="25.91" lengthAdjust="spacingAndGlyphs" transform="rotate(29.5 535.85 410.60)" >Speed</text>
<line x1="565.50" y1="397.90" x2="565.50" y2="401.10" stroke="#8a8a8a" stroke-width="0.8" />
<text x="562.50" y="410.60" font-size="10.9" font-weight="normal" text-anchor="start" font-style="normal" fill="#222" font-family='"Liberation Serif", serif' textLength="29.46" lengthAdjust="spacingAndGlyphs" transform="rotate(29.5 562.50 410.60)" >MSTN</text>
<defs><linearGradient id="cb" x1="0" y1="0" x2="0" y2="1"><stop offset="0" stop-color="#d73027"/><stop offset="0.25" stop-color="#eb9873"/><stop offset="0.5" stop-color="#ffffbf"/><stop offset="0.75" stop-color="#a2baba"/><stop offset="1" stop-color="#4575b4"/></linearGradient></defs>
<rect x="656.1" y="270.6" width="9.8" height="65" fill="url(#cb)"/>
<line x1="656.10" y1="287.00" x2="657.60" y2="287.00" stroke="#fff" stroke-width="0.8" />
<line x1="664.40" y1="287.00" x2="665.90" y2="287.00" stroke="#fff" stroke-width="0.8" />
<line x1="656.10" y1="303.10" x2="657.60" y2="303.10" stroke="#fff" stroke-width="0.8" />
<line x1="664.40" y1="303.10" x2="665.90" y2="303.10" stroke="#fff" stroke-width="0.8" />
<line x1="656.10" y1="320.20" x2="657.60" y2="320.20" stroke="#fff" stroke-width="0.8" />
<line x1="664.40" y1="320.20" x2="665.90" y2="320.20" stroke="#fff" stroke-width="0.8" />
<text x="667.90" y="273.40" font-size="10.0" font-weight="normal" text-anchor="start" font-style="normal" fill="#222" font-family='"Liberation Serif", serif' >1</text>
<text x="667.90" y="289.50" font-size="10.0" font-weight="normal" text-anchor="start" font-style="normal" fill="#222" font-family='"Liberation Serif", serif' >0.5</text>
<text x="667.90" y="305.90" font-size="10.0" font-weight="normal" text-anchor="start" font-style="normal" fill="#222" font-family='"Liberation Serif", serif' >0</text>
<text x="667.90" y="321.70" font-size="10.0" font-weight="normal" text-anchor="start" font-style="normal" fill="#222" font-family='"Liberation Serif", serif' >-0.5</text>
</svg></body></html>
